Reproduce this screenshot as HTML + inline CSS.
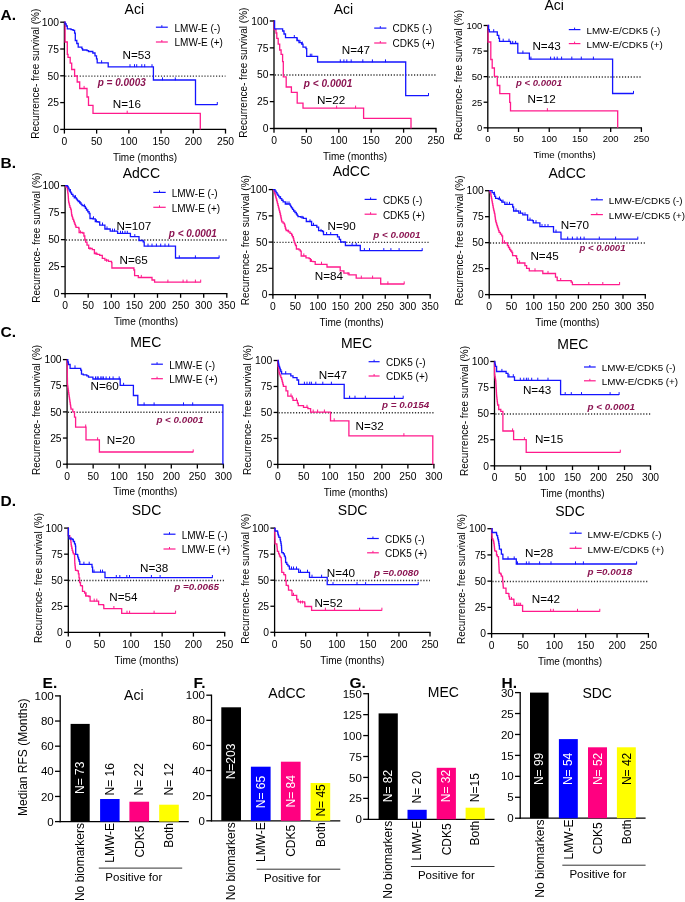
<!DOCTYPE html>
<html><head><meta charset="utf-8"><style>
html,body{margin:0;padding:0;background:#fff;}
svg{display:block;will-change:transform;}
text{font-family:"Liberation Sans", sans-serif;}
</style></head><body>
<svg width="685" height="902" viewBox="0 0 685 902" font-family='"Liberation Sans", sans-serif'>
<rect width="685" height="902" fill="#fff"/>
<line x1="64.40" y1="21.60" x2="64.40" y2="130.00" stroke="#000" stroke-width="1.3"/>
<line x1="63.80" y1="129.40" x2="226.10" y2="129.40" stroke="#000" stroke-width="1.3"/>
<line x1="60.20" y1="129.40" x2="64.40" y2="129.40" stroke="#000" stroke-width="1.3"/>
<text x="58.90" y="133.10" font-size="10.3" text-anchor="end">0</text>
<line x1="60.20" y1="102.60" x2="64.40" y2="102.60" stroke="#000" stroke-width="1.3"/>
<text x="58.90" y="106.30" font-size="10.3" text-anchor="end">25</text>
<line x1="60.20" y1="75.80" x2="64.40" y2="75.80" stroke="#000" stroke-width="1.3"/>
<text x="58.90" y="79.50" font-size="10.3" text-anchor="end">50</text>
<line x1="60.20" y1="49.00" x2="64.40" y2="49.00" stroke="#000" stroke-width="1.3"/>
<text x="58.90" y="52.70" font-size="10.3" text-anchor="end">75</text>
<line x1="60.20" y1="22.20" x2="64.40" y2="22.20" stroke="#000" stroke-width="1.3"/>
<text x="58.90" y="25.90" font-size="10.3" text-anchor="end">100</text>
<line x1="64.40" y1="129.40" x2="64.40" y2="133.60" stroke="#000" stroke-width="1.3"/>
<text x="64.40" y="145.00" font-size="10.3" text-anchor="middle">0</text>
<line x1="96.62" y1="129.40" x2="96.62" y2="133.60" stroke="#000" stroke-width="1.3"/>
<text x="96.62" y="145.00" font-size="10.3" text-anchor="middle">50</text>
<line x1="128.84" y1="129.40" x2="128.84" y2="133.60" stroke="#000" stroke-width="1.3"/>
<text x="128.84" y="145.00" font-size="10.3" text-anchor="middle">100</text>
<line x1="161.06" y1="129.40" x2="161.06" y2="133.60" stroke="#000" stroke-width="1.3"/>
<text x="161.06" y="145.00" font-size="10.3" text-anchor="middle">150</text>
<line x1="193.28" y1="129.40" x2="193.28" y2="133.60" stroke="#000" stroke-width="1.3"/>
<text x="193.28" y="145.00" font-size="10.3" text-anchor="middle">200</text>
<line x1="225.50" y1="129.40" x2="225.50" y2="133.60" stroke="#000" stroke-width="1.3"/>
<text x="225.50" y="145.00" font-size="10.3" text-anchor="middle">250</text>
<line x1="65.20" y1="76.10" x2="225.50" y2="76.10" stroke="#333" stroke-width="1.4" stroke-dasharray="1.2 1.7"/>
<text x="38.70" y="73.70" font-size="10" text-anchor="middle" transform="rotate(-90 38.7 73.7)">Recurrence- free survival (%)</text>
<text x="144.95" y="160.70" font-size="10" text-anchor="middle">Time (months)</text>
<text x="134.30" y="14.00" font-size="14" text-anchor="middle">Aci</text>
<line x1="155.90" y1="27.20" x2="167.80" y2="27.20" stroke="#1414ff" stroke-width="1.2"/>
<line x1="161.85" y1="27.20" x2="161.85" y2="25.20" stroke="#1414ff" stroke-width="1.0"/>
<text x="174.50" y="31.50" font-size="10">LMW-E (-)</text>
<line x1="155.90" y1="42.00" x2="167.80" y2="42.00" stroke="#ff1a8c" stroke-width="1.2"/>
<line x1="161.85" y1="42.00" x2="161.85" y2="40.00" stroke="#ff1a8c" stroke-width="1.0"/>
<text x="174.50" y="46.30" font-size="10">LMW-E (+)</text>
<text x="122.60" y="59.20" font-size="11.7">N=53</text>
<text x="112.80" y="107.80" font-size="11.7">N=16</text>
<text x="97.70" y="86.30" font-size="10" font-weight="bold" font-style="italic" fill="#8b1552">p = 0.0003</text>
<path d="M64.40 22.20H65.10V42.00H67.30V54.40H68.00V57.30H70.20V63.20H71.70V69.50H74.60V76.00H77.20V82.00H79.70V88.50H87.00V97.00H88.50V105.30H93.00V113.30H200.30V129.40" fill="none" stroke="#ff1a8c" stroke-width="1.3" stroke-linejoin="miter"/>
<line x1="84.10" y1="88.80" x2="84.10" y2="85.90" stroke="#ff1a8c" stroke-width="1.0"/>
<line x1="127.20" y1="113.60" x2="127.20" y2="110.70" stroke="#ff1a8c" stroke-width="1.0"/>
<path d="M64.40 22.20H65.10V24.00H66.20V26.00H67.30V28.90H71.00V29.60H73.10V30.30H74.60V33.20H75.30V40.50H76.80V43.50H78.20V47.10H81.90V48.60H82.60V50.00H87.00V50.60H88.50V51.50H92.80V53.00H95.00V55.90H96.50V58.80H97.20V62.90H108.20V66.80H153.40V80.00H195.50V104.60H217.30V104.60" fill="none" stroke="#1414ff" stroke-width="1.3" stroke-linejoin="miter"/>
<line x1="101.60" y1="63.20" x2="101.60" y2="60.30" stroke="#1414ff" stroke-width="1.0"/>
<line x1="130.00" y1="67.10" x2="130.00" y2="64.20" stroke="#1414ff" stroke-width="1.0"/>
<line x1="134.50" y1="67.10" x2="134.50" y2="64.20" stroke="#1414ff" stroke-width="1.0"/>
<line x1="136.70" y1="67.10" x2="136.70" y2="64.20" stroke="#1414ff" stroke-width="1.0"/>
<line x1="141.80" y1="67.10" x2="141.80" y2="64.20" stroke="#1414ff" stroke-width="1.0"/>
<line x1="144.70" y1="67.10" x2="144.70" y2="64.20" stroke="#1414ff" stroke-width="1.0"/>
<line x1="152.00" y1="67.10" x2="152.00" y2="64.20" stroke="#1414ff" stroke-width="1.0"/>
<line x1="162.50" y1="80.30" x2="162.50" y2="77.40" stroke="#1414ff" stroke-width="1.0"/>
<line x1="175.30" y1="80.30" x2="175.30" y2="77.40" stroke="#1414ff" stroke-width="1.0"/>
<line x1="217.30" y1="104.90" x2="217.30" y2="102.00" stroke="#1414ff" stroke-width="1.0"/>
<line x1="274.00" y1="20.40" x2="274.00" y2="129.10" stroke="#000" stroke-width="1.3"/>
<line x1="273.40" y1="128.50" x2="436.60" y2="128.50" stroke="#000" stroke-width="1.3"/>
<line x1="269.80" y1="128.50" x2="274.00" y2="128.50" stroke="#000" stroke-width="1.3"/>
<text x="268.50" y="132.20" font-size="10.3" text-anchor="end">0</text>
<line x1="269.80" y1="101.62" x2="274.00" y2="101.62" stroke="#000" stroke-width="1.3"/>
<text x="268.50" y="105.33" font-size="10.3" text-anchor="end">25</text>
<line x1="269.80" y1="74.75" x2="274.00" y2="74.75" stroke="#000" stroke-width="1.3"/>
<text x="268.50" y="78.45" font-size="10.3" text-anchor="end">50</text>
<line x1="269.80" y1="47.88" x2="274.00" y2="47.88" stroke="#000" stroke-width="1.3"/>
<text x="268.50" y="51.58" font-size="10.3" text-anchor="end">75</text>
<line x1="269.80" y1="21.00" x2="274.00" y2="21.00" stroke="#000" stroke-width="1.3"/>
<text x="268.50" y="24.70" font-size="10.3" text-anchor="end">100</text>
<line x1="274.00" y1="128.50" x2="274.00" y2="132.70" stroke="#000" stroke-width="1.3"/>
<text x="274.00" y="144.10" font-size="10.3" text-anchor="middle">0</text>
<line x1="306.40" y1="128.50" x2="306.40" y2="132.70" stroke="#000" stroke-width="1.3"/>
<text x="306.40" y="144.10" font-size="10.3" text-anchor="middle">50</text>
<line x1="338.80" y1="128.50" x2="338.80" y2="132.70" stroke="#000" stroke-width="1.3"/>
<text x="338.80" y="144.10" font-size="10.3" text-anchor="middle">100</text>
<line x1="371.20" y1="128.50" x2="371.20" y2="132.70" stroke="#000" stroke-width="1.3"/>
<text x="371.20" y="144.10" font-size="10.3" text-anchor="middle">150</text>
<line x1="403.60" y1="128.50" x2="403.60" y2="132.70" stroke="#000" stroke-width="1.3"/>
<text x="403.60" y="144.10" font-size="10.3" text-anchor="middle">200</text>
<line x1="436.00" y1="128.50" x2="436.00" y2="132.70" stroke="#000" stroke-width="1.3"/>
<text x="436.00" y="144.10" font-size="10.3" text-anchor="middle">250</text>
<line x1="274.80" y1="75.05" x2="436.00" y2="75.05" stroke="#333" stroke-width="1.4" stroke-dasharray="1.2 1.7"/>
<text x="246.80" y="72.65" font-size="10" text-anchor="middle" transform="rotate(-90 246.8 72.65)">Recurrence- free survival (%)</text>
<text x="355.00" y="160.40" font-size="10" text-anchor="middle">Time (months)</text>
<text x="343.50" y="14.00" font-size="14" text-anchor="middle">Aci</text>
<line x1="374.20" y1="28.10" x2="386.40" y2="28.10" stroke="#1414ff" stroke-width="1.2"/>
<line x1="380.30" y1="28.10" x2="380.30" y2="26.10" stroke="#1414ff" stroke-width="1.0"/>
<text x="392.60" y="32.40" font-size="10">CDK5 (-)</text>
<line x1="374.20" y1="43.00" x2="386.40" y2="43.00" stroke="#ff1a8c" stroke-width="1.2"/>
<line x1="380.30" y1="43.00" x2="380.30" y2="41.00" stroke="#ff1a8c" stroke-width="1.0"/>
<text x="392.60" y="47.30" font-size="10">CDK5 (+)</text>
<text x="341.80" y="53.50" font-size="11.7">N=47</text>
<text x="316.90" y="104.10" font-size="11.7">N=22</text>
<text x="303.80" y="87.00" font-size="10.1" font-weight="bold" font-style="italic" fill="#8b1552">p &lt; 0.0001</text>
<path d="M274.00 21.00H274.20V29.60H276.00V33.00H276.80V38.40H278.20V44.20H279.70V50.00H281.10V54.40H282.60V61.70H283.30V76.80H286.20V87.00H291.40V92.40H297.20V103.10H303.00V108.20H363.60V118.40H411.00V128.50" fill="none" stroke="#ff1a8c" stroke-width="1.3" stroke-linejoin="miter"/>
<line x1="336.60" y1="108.50" x2="336.60" y2="105.60" stroke="#ff1a8c" stroke-width="1.0"/>
<line x1="355.60" y1="108.50" x2="355.60" y2="105.60" stroke="#ff1a8c" stroke-width="1.0"/>
<path d="M274.00 21.00H274.60V28.90H282.60V31.00H284.00V34.00H285.50V37.60H297.00V40.50H299.00V42.70H301.60V44.20H303.00V47.10H306.00V48.60H306.70V56.30H317.60V62.00H405.70V95.60H428.50V95.60" fill="none" stroke="#1414ff" stroke-width="1.3" stroke-linejoin="miter"/>
<line x1="294.30" y1="37.90" x2="294.30" y2="35.00" stroke="#1414ff" stroke-width="1.0"/>
<line x1="297.20" y1="40.80" x2="297.20" y2="37.90" stroke="#1414ff" stroke-width="1.0"/>
<line x1="300.00" y1="43.00" x2="300.00" y2="40.10" stroke="#1414ff" stroke-width="1.0"/>
<line x1="302.30" y1="44.50" x2="302.30" y2="41.60" stroke="#1414ff" stroke-width="1.0"/>
<line x1="310.30" y1="56.60" x2="310.30" y2="53.70" stroke="#1414ff" stroke-width="1.0"/>
<line x1="311.80" y1="56.60" x2="311.80" y2="53.70" stroke="#1414ff" stroke-width="1.0"/>
<line x1="340.30" y1="62.30" x2="340.30" y2="59.40" stroke="#1414ff" stroke-width="1.0"/>
<line x1="343.90" y1="62.30" x2="343.90" y2="59.40" stroke="#1414ff" stroke-width="1.0"/>
<line x1="346.80" y1="62.30" x2="346.80" y2="59.40" stroke="#1414ff" stroke-width="1.0"/>
<line x1="351.20" y1="62.30" x2="351.20" y2="59.40" stroke="#1414ff" stroke-width="1.0"/>
<line x1="362.80" y1="62.30" x2="362.80" y2="59.40" stroke="#1414ff" stroke-width="1.0"/>
<line x1="372.40" y1="62.30" x2="372.40" y2="59.40" stroke="#1414ff" stroke-width="1.0"/>
<line x1="385.50" y1="62.30" x2="385.50" y2="59.40" stroke="#1414ff" stroke-width="1.0"/>
<line x1="428.50" y1="95.90" x2="428.50" y2="93.00" stroke="#1414ff" stroke-width="1.0"/>
<line x1="487.80" y1="24.90" x2="487.80" y2="128.40" stroke="#000" stroke-width="1.3"/>
<line x1="487.20" y1="127.80" x2="642.00" y2="127.80" stroke="#000" stroke-width="1.3"/>
<line x1="483.60" y1="127.80" x2="487.80" y2="127.80" stroke="#000" stroke-width="1.3"/>
<text x="482.30" y="131.21" font-size="9.5" text-anchor="end">0</text>
<line x1="483.60" y1="102.22" x2="487.80" y2="102.22" stroke="#000" stroke-width="1.3"/>
<text x="482.30" y="105.64" font-size="9.5" text-anchor="end">25</text>
<line x1="483.60" y1="76.65" x2="487.80" y2="76.65" stroke="#000" stroke-width="1.3"/>
<text x="482.30" y="80.06" font-size="9.5" text-anchor="end">50</text>
<line x1="483.60" y1="51.08" x2="487.80" y2="51.08" stroke="#000" stroke-width="1.3"/>
<text x="482.30" y="54.49" font-size="9.5" text-anchor="end">75</text>
<line x1="483.60" y1="25.50" x2="487.80" y2="25.50" stroke="#000" stroke-width="1.3"/>
<text x="482.30" y="28.91" font-size="9.5" text-anchor="end">100</text>
<line x1="487.80" y1="127.80" x2="487.80" y2="132.00" stroke="#000" stroke-width="1.3"/>
<text x="487.80" y="142.40" font-size="9.5" text-anchor="middle">0</text>
<line x1="518.52" y1="127.80" x2="518.52" y2="132.00" stroke="#000" stroke-width="1.3"/>
<text x="518.52" y="142.40" font-size="9.5" text-anchor="middle">50</text>
<line x1="549.24" y1="127.80" x2="549.24" y2="132.00" stroke="#000" stroke-width="1.3"/>
<text x="549.24" y="142.40" font-size="9.5" text-anchor="middle">100</text>
<line x1="579.96" y1="127.80" x2="579.96" y2="132.00" stroke="#000" stroke-width="1.3"/>
<text x="579.96" y="142.40" font-size="9.5" text-anchor="middle">150</text>
<line x1="610.68" y1="127.80" x2="610.68" y2="132.00" stroke="#000" stroke-width="1.3"/>
<text x="610.68" y="142.40" font-size="9.5" text-anchor="middle">200</text>
<line x1="641.40" y1="127.80" x2="641.40" y2="132.00" stroke="#000" stroke-width="1.3"/>
<text x="641.40" y="142.40" font-size="9.5" text-anchor="middle">250</text>
<line x1="488.60" y1="76.95" x2="641.40" y2="76.95" stroke="#333" stroke-width="1.4" stroke-dasharray="1.2 1.7"/>
<text x="462.10" y="74.90" font-size="10" text-anchor="middle" transform="rotate(-90 462.1 74.9)">Recurrence- free survival (%)</text>
<text x="564.60" y="157.50" font-size="9.7" text-anchor="middle">Time (months)</text>
<text x="554.20" y="10.00" font-size="14" text-anchor="middle">Aci</text>
<line x1="568.80" y1="29.60" x2="580.40" y2="29.60" stroke="#1414ff" stroke-width="1.2"/>
<line x1="574.60" y1="29.60" x2="574.60" y2="27.60" stroke="#1414ff" stroke-width="1.0"/>
<text x="586.50" y="33.90" font-size="9.8">LMW-E/CDK5 (-)</text>
<line x1="568.80" y1="43.60" x2="580.40" y2="43.60" stroke="#ff1a8c" stroke-width="1.2"/>
<line x1="574.60" y1="43.60" x2="574.60" y2="41.60" stroke="#ff1a8c" stroke-width="1.0"/>
<text x="586.50" y="47.90" font-size="9.8">LMW-E/CDK5 (+)</text>
<text x="532.40" y="50.10" font-size="11.7">N=43</text>
<text x="527.50" y="103.10" font-size="11.7">N=12</text>
<text x="515.90" y="85.80" font-size="9.6" font-weight="bold" font-style="italic" fill="#8b1552">p &lt; 0.0001</text>
<path d="M487.80 25.50H488.10V42.00H490.80V59.50H492.20V68.00H494.40V76.40H497.30V85.50H499.80V93.60H509.70V102.30H510.50V110.80H617.70V127.80" fill="none" stroke="#ff1a8c" stroke-width="1.3" stroke-linejoin="miter"/>
<line x1="547.40" y1="111.10" x2="547.40" y2="108.20" stroke="#ff1a8c" stroke-width="1.0"/>
<path d="M487.80 25.50H488.60V29.60H489.30V31.80H497.30V35.40H498.80V38.40H499.50V41.30H510.50V43.50H517.80V53.20H529.40V59.20H612.60V93.50H633.50V93.50" fill="none" stroke="#1414ff" stroke-width="1.3" stroke-linejoin="miter"/>
<line x1="493.70" y1="32.10" x2="493.70" y2="29.20" stroke="#1414ff" stroke-width="1.0"/>
<line x1="503.20" y1="41.60" x2="503.20" y2="38.70" stroke="#1414ff" stroke-width="1.0"/>
<line x1="509.00" y1="41.60" x2="509.00" y2="38.70" stroke="#1414ff" stroke-width="1.0"/>
<line x1="512.70" y1="43.80" x2="512.70" y2="40.90" stroke="#1414ff" stroke-width="1.0"/>
<line x1="515.60" y1="43.80" x2="515.60" y2="40.90" stroke="#1414ff" stroke-width="1.0"/>
<line x1="522.90" y1="53.50" x2="522.90" y2="50.60" stroke="#1414ff" stroke-width="1.0"/>
<line x1="530.90" y1="59.50" x2="530.90" y2="56.60" stroke="#1414ff" stroke-width="1.0"/>
<line x1="550.60" y1="59.50" x2="550.60" y2="56.60" stroke="#1414ff" stroke-width="1.0"/>
<line x1="554.30" y1="59.50" x2="554.30" y2="56.60" stroke="#1414ff" stroke-width="1.0"/>
<line x1="557.20" y1="59.50" x2="557.20" y2="56.60" stroke="#1414ff" stroke-width="1.0"/>
<line x1="561.60" y1="59.50" x2="561.60" y2="56.60" stroke="#1414ff" stroke-width="1.0"/>
<line x1="571.80" y1="59.50" x2="571.80" y2="56.60" stroke="#1414ff" stroke-width="1.0"/>
<line x1="581.30" y1="59.50" x2="581.30" y2="56.60" stroke="#1414ff" stroke-width="1.0"/>
<line x1="593.40" y1="59.50" x2="593.40" y2="56.60" stroke="#1414ff" stroke-width="1.0"/>
<line x1="633.50" y1="93.80" x2="633.50" y2="90.90" stroke="#1414ff" stroke-width="1.0"/>
<line x1="65.10" y1="185.10" x2="65.10" y2="294.20" stroke="#000" stroke-width="1.3"/>
<line x1="64.50" y1="293.60" x2="227.40" y2="293.60" stroke="#000" stroke-width="1.3"/>
<line x1="60.90" y1="293.60" x2="65.10" y2="293.60" stroke="#000" stroke-width="1.3"/>
<text x="59.60" y="297.30" font-size="10.3" text-anchor="end">0</text>
<line x1="60.90" y1="266.62" x2="65.10" y2="266.62" stroke="#000" stroke-width="1.3"/>
<text x="59.60" y="270.32" font-size="10.3" text-anchor="end">25</text>
<line x1="60.90" y1="239.65" x2="65.10" y2="239.65" stroke="#000" stroke-width="1.3"/>
<text x="59.60" y="243.35" font-size="10.3" text-anchor="end">50</text>
<line x1="60.90" y1="212.68" x2="65.10" y2="212.68" stroke="#000" stroke-width="1.3"/>
<text x="59.60" y="216.38" font-size="10.3" text-anchor="end">75</text>
<line x1="60.90" y1="185.70" x2="65.10" y2="185.70" stroke="#000" stroke-width="1.3"/>
<text x="59.60" y="189.40" font-size="10.3" text-anchor="end">100</text>
<line x1="65.10" y1="293.60" x2="65.10" y2="297.80" stroke="#000" stroke-width="1.3"/>
<text x="65.10" y="309.20" font-size="10.3" text-anchor="middle">0</text>
<line x1="88.20" y1="293.60" x2="88.20" y2="297.80" stroke="#000" stroke-width="1.3"/>
<text x="88.20" y="309.20" font-size="10.3" text-anchor="middle">50</text>
<line x1="111.30" y1="293.60" x2="111.30" y2="297.80" stroke="#000" stroke-width="1.3"/>
<text x="111.30" y="309.20" font-size="10.3" text-anchor="middle">100</text>
<line x1="134.40" y1="293.60" x2="134.40" y2="297.80" stroke="#000" stroke-width="1.3"/>
<text x="134.40" y="309.20" font-size="10.3" text-anchor="middle">150</text>
<line x1="157.50" y1="293.60" x2="157.50" y2="297.80" stroke="#000" stroke-width="1.3"/>
<text x="157.50" y="309.20" font-size="10.3" text-anchor="middle">200</text>
<line x1="180.60" y1="293.60" x2="180.60" y2="297.80" stroke="#000" stroke-width="1.3"/>
<text x="180.60" y="309.20" font-size="10.3" text-anchor="middle">250</text>
<line x1="203.70" y1="293.60" x2="203.70" y2="297.80" stroke="#000" stroke-width="1.3"/>
<text x="203.70" y="309.20" font-size="10.3" text-anchor="middle">300</text>
<line x1="226.80" y1="293.60" x2="226.80" y2="297.80" stroke="#000" stroke-width="1.3"/>
<text x="226.80" y="309.20" font-size="10.3" text-anchor="middle">350</text>
<line x1="65.90" y1="239.95" x2="226.80" y2="239.95" stroke="#333" stroke-width="1.4" stroke-dasharray="1.2 1.7"/>
<text x="39.70" y="237.65" font-size="10" text-anchor="middle" transform="rotate(-90 39.7 237.65)">Recurrence- free survival (%)</text>
<text x="145.95" y="324.90" font-size="10" text-anchor="middle">Time (months)</text>
<text x="141.40" y="178.40" font-size="14" text-anchor="middle">AdCC</text>
<line x1="153.30" y1="192.40" x2="165.70" y2="192.40" stroke="#1414ff" stroke-width="1.2"/>
<line x1="159.50" y1="192.40" x2="159.50" y2="190.40" stroke="#1414ff" stroke-width="1.0"/>
<text x="171.70" y="196.70" font-size="10">LMW-E (-)</text>
<line x1="153.30" y1="207.30" x2="165.70" y2="207.30" stroke="#ff1a8c" stroke-width="1.2"/>
<line x1="159.50" y1="207.30" x2="159.50" y2="205.30" stroke="#ff1a8c" stroke-width="1.0"/>
<text x="171.70" y="211.60" font-size="10">LMW-E (+)</text>
<text x="116.60" y="229.60" font-size="11.7">N=107</text>
<text x="119.60" y="264.00" font-size="11.7">N=65</text>
<text x="168.80" y="236.70" font-size="10" font-weight="bold" font-style="italic" fill="#8b1552">p &lt; 0.0001</text>
<path d="M65.10 185.70H65.90V187.00H67.30V189.00H67.50V190.53H67.70V192.05H67.90V193.57H68.10V195.10H68.22V196.85H68.35V198.60H68.47V200.35H68.60V202.10H69.03V203.87H69.47V205.63H69.90V207.40H70.55V209.15H71.20V210.90H71.40V212.95H71.60V215.00H72.03V216.47H72.47V217.93H72.90V219.40H73.60V221.15H74.30V222.90H74.87V224.37H75.43V225.83H76.00V227.30H78.60V228.10H79.10V232.50H82.60V233.00H83.90V236.00H84.80V239.50H85.60V242.10H87.00V245.20H88.70V248.30H92.20V249.60H94.40V253.50H97.00V254.40H99.70V255.30H102.30V258.30H104.90V260.10H108.40V261.40H111.50V262.70H111.90V268.00H133.90V270.00H134.60V275.60H138.30V277.50H152.00V280.00H154.60V282.20H200.70V282.20" fill="none" stroke="#ff1a8c" stroke-width="1.3" stroke-linejoin="miter"/>
<line x1="80.50" y1="233.30" x2="80.50" y2="230.40" stroke="#ff1a8c" stroke-width="1.0"/>
<line x1="90.00" y1="249.90" x2="90.00" y2="247.00" stroke="#ff1a8c" stroke-width="1.0"/>
<line x1="96.00" y1="254.70" x2="96.00" y2="251.80" stroke="#ff1a8c" stroke-width="1.0"/>
<line x1="106.50" y1="261.70" x2="106.50" y2="258.80" stroke="#ff1a8c" stroke-width="1.0"/>
<line x1="141.30" y1="277.80" x2="141.30" y2="274.90" stroke="#ff1a8c" stroke-width="1.0"/>
<line x1="167.90" y1="282.50" x2="167.90" y2="279.60" stroke="#ff1a8c" stroke-width="1.0"/>
<line x1="183.10" y1="282.50" x2="183.10" y2="279.60" stroke="#ff1a8c" stroke-width="1.0"/>
<line x1="186.90" y1="282.50" x2="186.90" y2="279.60" stroke="#ff1a8c" stroke-width="1.0"/>
<line x1="195.40" y1="282.50" x2="195.40" y2="279.60" stroke="#ff1a8c" stroke-width="1.0"/>
<line x1="200.70" y1="282.50" x2="200.70" y2="279.60" stroke="#ff1a8c" stroke-width="1.0"/>
<path d="M65.10 185.70H65.90V185.70H67.30V186.40H68.15V188.15H69.00V189.90H69.90V191.60H70.75V192.95H71.60V194.30H72.95V196.05H74.30V197.80H76.40V199.10H77.30V200.40H78.20V201.70H80.00V203.00H81.05V204.30H82.10V205.60H84.30V206.50H85.40V208.25H86.50V210.00H87.80V211.75H89.10V213.50H90.00V218.50H92.60V218.90H95.30V221.60H97.90V222.00H99.70V225.10H104.90V229.00H110.20V231.20H117.60V233.40H130.40V236.70H139.00V240.50H143.20V241.80H144.20V246.20H175.50V258.00H219.10V258.00" fill="none" stroke="#1414ff" stroke-width="1.3" stroke-linejoin="miter"/>
<line x1="70.50" y1="191.90" x2="70.50" y2="189.00" stroke="#1414ff" stroke-width="1.0"/>
<line x1="75.50" y1="198.10" x2="75.50" y2="195.20" stroke="#1414ff" stroke-width="1.0"/>
<line x1="79.50" y1="203.30" x2="79.50" y2="200.40" stroke="#1414ff" stroke-width="1.0"/>
<line x1="84.30" y1="206.80" x2="84.30" y2="203.90" stroke="#1414ff" stroke-width="1.0"/>
<line x1="93.50" y1="219.20" x2="93.50" y2="216.30" stroke="#1414ff" stroke-width="1.0"/>
<line x1="96.50" y1="222.30" x2="96.50" y2="219.40" stroke="#1414ff" stroke-width="1.0"/>
<line x1="102.50" y1="225.40" x2="102.50" y2="222.50" stroke="#1414ff" stroke-width="1.0"/>
<line x1="107.00" y1="229.30" x2="107.00" y2="226.40" stroke="#1414ff" stroke-width="1.0"/>
<line x1="112.50" y1="231.50" x2="112.50" y2="228.60" stroke="#1414ff" stroke-width="1.0"/>
<line x1="114.50" y1="231.50" x2="114.50" y2="228.60" stroke="#1414ff" stroke-width="1.0"/>
<line x1="120.50" y1="233.70" x2="120.50" y2="230.80" stroke="#1414ff" stroke-width="1.0"/>
<line x1="122.50" y1="233.70" x2="122.50" y2="230.80" stroke="#1414ff" stroke-width="1.0"/>
<line x1="125.00" y1="233.70" x2="125.00" y2="230.80" stroke="#1414ff" stroke-width="1.0"/>
<line x1="127.30" y1="233.70" x2="127.30" y2="230.80" stroke="#1414ff" stroke-width="1.0"/>
<line x1="134.80" y1="237.00" x2="134.80" y2="234.10" stroke="#1414ff" stroke-width="1.0"/>
<line x1="148.00" y1="246.50" x2="148.00" y2="243.60" stroke="#1414ff" stroke-width="1.0"/>
<line x1="152.00" y1="246.50" x2="152.00" y2="243.60" stroke="#1414ff" stroke-width="1.0"/>
<line x1="156.40" y1="246.50" x2="156.40" y2="243.60" stroke="#1414ff" stroke-width="1.0"/>
<line x1="160.70" y1="246.50" x2="160.70" y2="243.60" stroke="#1414ff" stroke-width="1.0"/>
<line x1="165.00" y1="246.50" x2="165.00" y2="243.60" stroke="#1414ff" stroke-width="1.0"/>
<line x1="168.70" y1="246.50" x2="168.70" y2="243.60" stroke="#1414ff" stroke-width="1.0"/>
<line x1="179.30" y1="258.30" x2="179.30" y2="255.40" stroke="#1414ff" stroke-width="1.0"/>
<line x1="195.40" y1="258.30" x2="195.40" y2="255.40" stroke="#1414ff" stroke-width="1.0"/>
<line x1="219.10" y1="258.30" x2="219.10" y2="255.40" stroke="#1414ff" stroke-width="1.0"/>
<line x1="272.90" y1="189.00" x2="272.90" y2="295.20" stroke="#000" stroke-width="1.3"/>
<line x1="272.30" y1="294.60" x2="430.80" y2="294.60" stroke="#000" stroke-width="1.3"/>
<line x1="268.70" y1="294.60" x2="272.90" y2="294.60" stroke="#000" stroke-width="1.3"/>
<text x="267.40" y="298.30" font-size="10.3" text-anchor="end">0</text>
<line x1="268.70" y1="268.35" x2="272.90" y2="268.35" stroke="#000" stroke-width="1.3"/>
<text x="267.40" y="272.05" font-size="10.3" text-anchor="end">25</text>
<line x1="268.70" y1="242.10" x2="272.90" y2="242.10" stroke="#000" stroke-width="1.3"/>
<text x="267.40" y="245.80" font-size="10.3" text-anchor="end">50</text>
<line x1="268.70" y1="215.85" x2="272.90" y2="215.85" stroke="#000" stroke-width="1.3"/>
<text x="267.40" y="219.55" font-size="10.3" text-anchor="end">75</text>
<line x1="268.70" y1="189.60" x2="272.90" y2="189.60" stroke="#000" stroke-width="1.3"/>
<text x="267.40" y="193.30" font-size="10.3" text-anchor="end">100</text>
<line x1="272.90" y1="294.60" x2="272.90" y2="298.80" stroke="#000" stroke-width="1.3"/>
<text x="272.90" y="310.20" font-size="10.3" text-anchor="middle">0</text>
<line x1="295.37" y1="294.60" x2="295.37" y2="298.80" stroke="#000" stroke-width="1.3"/>
<text x="295.37" y="310.20" font-size="10.3" text-anchor="middle">50</text>
<line x1="317.84" y1="294.60" x2="317.84" y2="298.80" stroke="#000" stroke-width="1.3"/>
<text x="317.84" y="310.20" font-size="10.3" text-anchor="middle">100</text>
<line x1="340.31" y1="294.60" x2="340.31" y2="298.80" stroke="#000" stroke-width="1.3"/>
<text x="340.31" y="310.20" font-size="10.3" text-anchor="middle">150</text>
<line x1="362.79" y1="294.60" x2="362.79" y2="298.80" stroke="#000" stroke-width="1.3"/>
<text x="362.79" y="310.20" font-size="10.3" text-anchor="middle">200</text>
<line x1="385.26" y1="294.60" x2="385.26" y2="298.80" stroke="#000" stroke-width="1.3"/>
<text x="385.26" y="310.20" font-size="10.3" text-anchor="middle">250</text>
<line x1="407.73" y1="294.60" x2="407.73" y2="298.80" stroke="#000" stroke-width="1.3"/>
<text x="407.73" y="310.20" font-size="10.3" text-anchor="middle">300</text>
<line x1="430.20" y1="294.60" x2="430.20" y2="298.80" stroke="#000" stroke-width="1.3"/>
<text x="430.20" y="310.20" font-size="10.3" text-anchor="middle">350</text>
<line x1="273.70" y1="242.40" x2="430.20" y2="242.40" stroke="#333" stroke-width="1.4" stroke-dasharray="1.2 1.7"/>
<text x="248.70" y="240.10" font-size="10" text-anchor="middle" transform="rotate(-90 248.7 240.10000000000002)">Recurrence- free survival (%)</text>
<text x="351.55" y="325.90" font-size="10" text-anchor="middle">Time (months)</text>
<text x="351.40" y="176.30" font-size="14" text-anchor="middle">AdCC</text>
<line x1="364.60" y1="199.40" x2="376.60" y2="199.40" stroke="#1414ff" stroke-width="1.2"/>
<line x1="370.60" y1="199.40" x2="370.60" y2="197.40" stroke="#1414ff" stroke-width="1.0"/>
<text x="382.90" y="203.70" font-size="10">CDK5 (-)</text>
<line x1="364.60" y1="214.20" x2="376.60" y2="214.20" stroke="#ff1a8c" stroke-width="1.2"/>
<line x1="370.60" y1="214.20" x2="370.60" y2="212.20" stroke="#ff1a8c" stroke-width="1.0"/>
<text x="382.90" y="218.50" font-size="10">CDK5 (+)</text>
<text x="327.60" y="229.80" font-size="11.7">N=90</text>
<text x="314.70" y="279.90" font-size="11.7">N=84</text>
<text x="373.20" y="238.40" font-size="9.85" font-weight="bold" font-style="italic" fill="#8b1552">p &lt; 0.0001</text>
<path d="M272.90 189.60H273.50V190.40H274.10V192.13H274.70V193.87H275.30V195.60H275.73V197.15H276.15V198.70H276.57V200.25H277.00V201.80H277.45V203.55H277.90V205.30H278.35V207.05H278.80V208.80H279.23V210.53H279.67V212.27H280.10V214.00H280.50V215.75H280.90V217.50H281.20V218.97H281.50V220.43H281.80V221.90H283.10V223.20H284.40V224.50H284.85V226.25H285.30V228.00H285.75V229.35H286.20V230.70H288.50V231.90H290.05V233.45H291.60V235.00H292.45V236.75H293.30V238.50H293.75V240.45H294.20V242.40H294.85V243.95H295.50V245.50H296.40V249.00H299.00V249.90H300.30V251.20H301.20V256.00H306.00V257.80H309.10V258.60H310.40V261.30H313.00V261.70H315.20V264.30H326.20V264.30H327.00V267.00H338.90V267.00H340.20V270.90H343.90V273.10H349.00V274.80H356.20V278.20H380.70V284.00H404.20V284.00" fill="none" stroke="#ff1a8c" stroke-width="1.3" stroke-linejoin="miter"/>
<line x1="288.00" y1="232.20" x2="288.00" y2="229.30" stroke="#ff1a8c" stroke-width="1.0"/>
<line x1="303.80" y1="256.30" x2="303.80" y2="253.40" stroke="#ff1a8c" stroke-width="1.0"/>
<line x1="311.50" y1="262.00" x2="311.50" y2="259.10" stroke="#ff1a8c" stroke-width="1.0"/>
<line x1="321.50" y1="264.60" x2="321.50" y2="261.70" stroke="#ff1a8c" stroke-width="1.0"/>
<line x1="348.00" y1="275.10" x2="348.00" y2="272.20" stroke="#ff1a8c" stroke-width="1.0"/>
<line x1="361.30" y1="278.50" x2="361.30" y2="275.60" stroke="#ff1a8c" stroke-width="1.0"/>
<line x1="372.60" y1="278.50" x2="372.60" y2="275.60" stroke="#ff1a8c" stroke-width="1.0"/>
<line x1="387.90" y1="284.30" x2="387.90" y2="281.40" stroke="#ff1a8c" stroke-width="1.0"/>
<line x1="404.20" y1="284.30" x2="404.20" y2="281.40" stroke="#ff1a8c" stroke-width="1.0"/>
<path d="M272.90 189.60H273.90V189.60H275.00V191.10H276.10V192.60H277.00V194.03H277.90V195.47H278.80V196.90H280.50V198.70H281.80V200.25H283.10V201.80H285.30V204.00H288.00V204.00H290.10V205.30H290.80V206.60H291.50V207.90H292.55V209.45H293.60V211.00H294.95V212.50H296.30V214.00H297.15V215.30H298.00V216.60H300.60V217.10H303.30V218.40H306.30V221.50H311.60V225.40H314.70V225.40H316.80V227.20H318.60V230.70H322.50V231.50H323.50V234.60H337.50V236.80H339.30V239.40H340.60V242.00H345.40V245.50H360.30V250.70H422.20V250.70" fill="none" stroke="#1414ff" stroke-width="1.3" stroke-linejoin="miter"/>
<line x1="280.00" y1="199.00" x2="280.00" y2="196.10" stroke="#1414ff" stroke-width="1.0"/>
<line x1="287.00" y1="204.30" x2="287.00" y2="201.40" stroke="#1414ff" stroke-width="1.0"/>
<line x1="289.00" y1="204.30" x2="289.00" y2="201.40" stroke="#1414ff" stroke-width="1.0"/>
<line x1="302.00" y1="218.70" x2="302.00" y2="215.80" stroke="#1414ff" stroke-width="1.0"/>
<line x1="310.00" y1="222.20" x2="310.00" y2="219.30" stroke="#1414ff" stroke-width="1.0"/>
<line x1="313.50" y1="225.70" x2="313.50" y2="222.80" stroke="#1414ff" stroke-width="1.0"/>
<line x1="321.00" y1="231.80" x2="321.00" y2="228.90" stroke="#1414ff" stroke-width="1.0"/>
<line x1="326.60" y1="234.90" x2="326.60" y2="232.00" stroke="#1414ff" stroke-width="1.0"/>
<line x1="330.70" y1="234.90" x2="330.70" y2="232.00" stroke="#1414ff" stroke-width="1.0"/>
<line x1="352.10" y1="245.80" x2="352.10" y2="242.90" stroke="#1414ff" stroke-width="1.0"/>
<line x1="356.20" y1="245.80" x2="356.20" y2="242.90" stroke="#1414ff" stroke-width="1.0"/>
<line x1="364.40" y1="251.00" x2="364.40" y2="248.10" stroke="#1414ff" stroke-width="1.0"/>
<line x1="369.50" y1="251.00" x2="369.50" y2="248.10" stroke="#1414ff" stroke-width="1.0"/>
<line x1="383.80" y1="251.00" x2="383.80" y2="248.10" stroke="#1414ff" stroke-width="1.0"/>
<line x1="390.90" y1="251.00" x2="390.90" y2="248.10" stroke="#1414ff" stroke-width="1.0"/>
<line x1="399.10" y1="251.00" x2="399.10" y2="248.10" stroke="#1414ff" stroke-width="1.0"/>
<line x1="422.20" y1="251.00" x2="422.20" y2="248.10" stroke="#1414ff" stroke-width="1.0"/>
<line x1="489.20" y1="190.10" x2="489.20" y2="295.20" stroke="#000" stroke-width="1.3"/>
<line x1="488.60" y1="294.60" x2="645.90" y2="294.60" stroke="#000" stroke-width="1.3"/>
<line x1="485.00" y1="294.60" x2="489.20" y2="294.60" stroke="#000" stroke-width="1.3"/>
<text x="483.70" y="298.30" font-size="10.3" text-anchor="end">0</text>
<line x1="485.00" y1="268.62" x2="489.20" y2="268.62" stroke="#000" stroke-width="1.3"/>
<text x="483.70" y="272.32" font-size="10.3" text-anchor="end">25</text>
<line x1="485.00" y1="242.65" x2="489.20" y2="242.65" stroke="#000" stroke-width="1.3"/>
<text x="483.70" y="246.35" font-size="10.3" text-anchor="end">50</text>
<line x1="485.00" y1="216.68" x2="489.20" y2="216.68" stroke="#000" stroke-width="1.3"/>
<text x="483.70" y="220.38" font-size="10.3" text-anchor="end">75</text>
<line x1="485.00" y1="190.70" x2="489.20" y2="190.70" stroke="#000" stroke-width="1.3"/>
<text x="483.70" y="194.40" font-size="10.3" text-anchor="end">100</text>
<line x1="489.20" y1="294.60" x2="489.20" y2="298.80" stroke="#000" stroke-width="1.3"/>
<text x="489.20" y="310.20" font-size="10.3" text-anchor="middle">0</text>
<line x1="511.50" y1="294.60" x2="511.50" y2="298.80" stroke="#000" stroke-width="1.3"/>
<text x="511.50" y="310.20" font-size="10.3" text-anchor="middle">50</text>
<line x1="533.80" y1="294.60" x2="533.80" y2="298.80" stroke="#000" stroke-width="1.3"/>
<text x="533.80" y="310.20" font-size="10.3" text-anchor="middle">100</text>
<line x1="556.10" y1="294.60" x2="556.10" y2="298.80" stroke="#000" stroke-width="1.3"/>
<text x="556.10" y="310.20" font-size="10.3" text-anchor="middle">150</text>
<line x1="578.40" y1="294.60" x2="578.40" y2="298.80" stroke="#000" stroke-width="1.3"/>
<text x="578.40" y="310.20" font-size="10.3" text-anchor="middle">200</text>
<line x1="600.70" y1="294.60" x2="600.70" y2="298.80" stroke="#000" stroke-width="1.3"/>
<text x="600.70" y="310.20" font-size="10.3" text-anchor="middle">250</text>
<line x1="623.00" y1="294.60" x2="623.00" y2="298.80" stroke="#000" stroke-width="1.3"/>
<text x="623.00" y="310.20" font-size="10.3" text-anchor="middle">300</text>
<line x1="645.30" y1="294.60" x2="645.30" y2="298.80" stroke="#000" stroke-width="1.3"/>
<text x="645.30" y="310.20" font-size="10.3" text-anchor="middle">350</text>
<line x1="490.00" y1="242.95" x2="645.30" y2="242.95" stroke="#333" stroke-width="1.4" stroke-dasharray="1.2 1.7"/>
<text x="463.10" y="240.50" font-size="10" text-anchor="middle" transform="rotate(-90 463.1 240.5)">Recurrence- free survival (%)</text>
<text x="567.25" y="325.90" font-size="10" text-anchor="middle">Time (months)</text>
<text x="567.20" y="177.60" font-size="14" text-anchor="middle">AdCC</text>
<line x1="590.80" y1="199.80" x2="602.90" y2="199.80" stroke="#1414ff" stroke-width="1.2"/>
<line x1="596.85" y1="199.80" x2="596.85" y2="197.80" stroke="#1414ff" stroke-width="1.0"/>
<text x="608.80" y="204.10" font-size="9.8">LMW-E/CDK5 (-)</text>
<line x1="590.80" y1="214.60" x2="602.90" y2="214.60" stroke="#ff1a8c" stroke-width="1.2"/>
<line x1="596.85" y1="214.60" x2="596.85" y2="212.60" stroke="#ff1a8c" stroke-width="1.0"/>
<text x="608.80" y="218.90" font-size="9.8">LMW-E/CDK5 (+)</text>
<text x="560.70" y="228.80" font-size="11.7">N=70</text>
<text x="530.40" y="259.90" font-size="11.7">N=45</text>
<text x="579.40" y="251.40" font-size="9.6" font-weight="bold" font-style="italic" fill="#8b1552">p &lt; 0.0001</text>
<path d="M489.20 190.70H489.50V190.80H490.15V192.80H490.80V194.80H491.12V196.55H491.45V198.30H491.78V200.05H492.10V201.80H492.43V203.55H492.75V205.30H493.07V207.05H493.40V208.80H493.75V210.33H494.10V211.85H494.45V213.38H494.80V214.90H495.00V216.43H495.20V217.95H495.40V219.47H495.60V221.00H496.05V222.55H496.50V224.10H496.95V225.65H497.40V227.20H497.97V228.93H498.53V230.67H499.10V232.40H500.40V234.15H501.70V235.90H502.60V242.90H506.50V242.90H507.40V245.50H508.50V247.50H509.60V249.50H510.70V251.00H511.80V252.50H512.60V255.60H515.70V256.00H516.60V258.60H517.50V263.00H524.90V265.70H526.60V268.30H529.30V270.90H542.80V273.50H555.50V277.10H557.20V280.60H571.20V282.20H572.40V284.60H619.60V284.60" fill="none" stroke="#ff1a8c" stroke-width="1.3" stroke-linejoin="miter"/>
<line x1="504.50" y1="243.20" x2="504.50" y2="240.30" stroke="#ff1a8c" stroke-width="1.0"/>
<line x1="519.60" y1="263.30" x2="519.60" y2="260.40" stroke="#ff1a8c" stroke-width="1.0"/>
<line x1="535.00" y1="271.20" x2="535.00" y2="268.30" stroke="#ff1a8c" stroke-width="1.0"/>
<line x1="548.00" y1="273.80" x2="548.00" y2="270.90" stroke="#ff1a8c" stroke-width="1.0"/>
<line x1="560.70" y1="280.90" x2="560.70" y2="278.00" stroke="#ff1a8c" stroke-width="1.0"/>
<line x1="588.80" y1="284.90" x2="588.80" y2="282.00" stroke="#ff1a8c" stroke-width="1.0"/>
<line x1="602.80" y1="284.90" x2="602.80" y2="282.00" stroke="#ff1a8c" stroke-width="1.0"/>
<line x1="619.60" y1="284.90" x2="619.60" y2="282.00" stroke="#ff1a8c" stroke-width="1.0"/>
<path d="M489.20 190.70H490.40V190.70H492.10V192.60H493.90V194.30H494.75V196.30H495.60V198.30H498.30V199.10H500.40V200.40H501.80V202.20H504.80V204.40H511.40V204.40H512.70V207.00H513.60V211.00H518.80V213.10H522.80V214.90H527.60V220.20H532.40V220.60H533.30V222.80H539.90V226.70H553.50V232.20H561.00V239.20H637.80V239.20" fill="none" stroke="#1414ff" stroke-width="1.3" stroke-linejoin="miter"/>
<line x1="494.50" y1="194.60" x2="494.50" y2="191.70" stroke="#1414ff" stroke-width="1.0"/>
<line x1="499.50" y1="199.40" x2="499.50" y2="196.50" stroke="#1414ff" stroke-width="1.0"/>
<line x1="503.00" y1="202.50" x2="503.00" y2="199.60" stroke="#1414ff" stroke-width="1.0"/>
<line x1="507.00" y1="204.70" x2="507.00" y2="201.80" stroke="#1414ff" stroke-width="1.0"/>
<line x1="509.50" y1="204.70" x2="509.50" y2="201.80" stroke="#1414ff" stroke-width="1.0"/>
<line x1="516.00" y1="211.30" x2="516.00" y2="208.40" stroke="#1414ff" stroke-width="1.0"/>
<line x1="520.50" y1="213.40" x2="520.50" y2="210.50" stroke="#1414ff" stroke-width="1.0"/>
<line x1="525.00" y1="215.20" x2="525.00" y2="212.30" stroke="#1414ff" stroke-width="1.0"/>
<line x1="530.00" y1="220.50" x2="530.00" y2="217.60" stroke="#1414ff" stroke-width="1.0"/>
<line x1="536.00" y1="223.10" x2="536.00" y2="220.20" stroke="#1414ff" stroke-width="1.0"/>
<line x1="542.00" y1="227.00" x2="542.00" y2="224.10" stroke="#1414ff" stroke-width="1.0"/>
<line x1="545.00" y1="227.00" x2="545.00" y2="224.10" stroke="#1414ff" stroke-width="1.0"/>
<line x1="548.00" y1="227.00" x2="548.00" y2="224.10" stroke="#1414ff" stroke-width="1.0"/>
<line x1="556.00" y1="232.50" x2="556.00" y2="229.60" stroke="#1414ff" stroke-width="1.0"/>
<line x1="567.70" y1="239.50" x2="567.70" y2="236.60" stroke="#1414ff" stroke-width="1.0"/>
<line x1="572.40" y1="239.50" x2="572.40" y2="236.60" stroke="#1414ff" stroke-width="1.0"/>
<line x1="577.10" y1="239.50" x2="577.10" y2="236.60" stroke="#1414ff" stroke-width="1.0"/>
<line x1="580.60" y1="239.50" x2="580.60" y2="236.60" stroke="#1414ff" stroke-width="1.0"/>
<line x1="584.10" y1="239.50" x2="584.10" y2="236.60" stroke="#1414ff" stroke-width="1.0"/>
<line x1="599.30" y1="239.50" x2="599.30" y2="236.60" stroke="#1414ff" stroke-width="1.0"/>
<line x1="615.60" y1="239.50" x2="615.60" y2="236.60" stroke="#1414ff" stroke-width="1.0"/>
<line x1="637.80" y1="239.50" x2="637.80" y2="236.60" stroke="#1414ff" stroke-width="1.0"/>
<line x1="67.10" y1="359.00" x2="67.10" y2="464.80" stroke="#000" stroke-width="1.3"/>
<line x1="66.50" y1="464.20" x2="224.00" y2="464.20" stroke="#000" stroke-width="1.3"/>
<line x1="62.90" y1="464.20" x2="67.10" y2="464.20" stroke="#000" stroke-width="1.3"/>
<text x="61.60" y="467.90" font-size="10.3" text-anchor="end">0</text>
<line x1="62.90" y1="438.05" x2="67.10" y2="438.05" stroke="#000" stroke-width="1.3"/>
<text x="61.60" y="441.75" font-size="10.3" text-anchor="end">25</text>
<line x1="62.90" y1="411.90" x2="67.10" y2="411.90" stroke="#000" stroke-width="1.3"/>
<text x="61.60" y="415.60" font-size="10.3" text-anchor="end">50</text>
<line x1="62.90" y1="385.75" x2="67.10" y2="385.75" stroke="#000" stroke-width="1.3"/>
<text x="61.60" y="389.45" font-size="10.3" text-anchor="end">75</text>
<line x1="62.90" y1="359.60" x2="67.10" y2="359.60" stroke="#000" stroke-width="1.3"/>
<text x="61.60" y="363.30" font-size="10.3" text-anchor="end">100</text>
<line x1="67.10" y1="464.20" x2="67.10" y2="468.40" stroke="#000" stroke-width="1.3"/>
<text x="67.10" y="479.80" font-size="10.3" text-anchor="middle">0</text>
<line x1="93.15" y1="464.20" x2="93.15" y2="468.40" stroke="#000" stroke-width="1.3"/>
<text x="93.15" y="479.80" font-size="10.3" text-anchor="middle">50</text>
<line x1="119.20" y1="464.20" x2="119.20" y2="468.40" stroke="#000" stroke-width="1.3"/>
<text x="119.20" y="479.80" font-size="10.3" text-anchor="middle">100</text>
<line x1="145.25" y1="464.20" x2="145.25" y2="468.40" stroke="#000" stroke-width="1.3"/>
<text x="145.25" y="479.80" font-size="10.3" text-anchor="middle">150</text>
<line x1="171.30" y1="464.20" x2="171.30" y2="468.40" stroke="#000" stroke-width="1.3"/>
<text x="171.30" y="479.80" font-size="10.3" text-anchor="middle">200</text>
<line x1="197.35" y1="464.20" x2="197.35" y2="468.40" stroke="#000" stroke-width="1.3"/>
<text x="197.35" y="479.80" font-size="10.3" text-anchor="middle">250</text>
<line x1="223.40" y1="464.20" x2="223.40" y2="468.40" stroke="#000" stroke-width="1.3"/>
<text x="223.40" y="479.80" font-size="10.3" text-anchor="middle">300</text>
<line x1="67.90" y1="412.20" x2="223.40" y2="412.20" stroke="#333" stroke-width="1.4" stroke-dasharray="1.2 1.7"/>
<text x="40.40" y="409.90" font-size="10" text-anchor="middle" transform="rotate(-90 40.4 409.9)">Recurrence- free survival (%)</text>
<text x="145.25" y="495.20" font-size="10" text-anchor="middle">Time (months)</text>
<text x="145.70" y="347.00" font-size="14" text-anchor="middle">MEC</text>
<line x1="151.20" y1="364.20" x2="162.90" y2="364.20" stroke="#1414ff" stroke-width="1.2"/>
<line x1="157.05" y1="364.20" x2="157.05" y2="362.20" stroke="#1414ff" stroke-width="1.0"/>
<text x="169.20" y="368.50" font-size="10">LMW-E (-)</text>
<line x1="151.20" y1="378.70" x2="162.90" y2="378.70" stroke="#ff1a8c" stroke-width="1.2"/>
<line x1="157.05" y1="378.70" x2="157.05" y2="376.70" stroke="#ff1a8c" stroke-width="1.0"/>
<text x="169.20" y="383.00" font-size="10">LMW-E (+)</text>
<text x="90.60" y="390.40" font-size="11.7">N=60</text>
<text x="106.80" y="444.30" font-size="11.7">N=20</text>
<text x="156.40" y="422.90" font-size="9.8" font-weight="bold" font-style="italic" fill="#8b1552">p &lt; 0.0001</text>
<path d="M67.10 359.60H67.13V361.33H67.15V363.05H67.18V364.78H67.21V366.51H67.23V368.23H67.26V369.96H67.29V371.69H67.31V373.41H67.34V375.14H67.37V376.87H67.39V378.59H67.42V380.32H67.45V382.05H67.47V383.77H67.50V385.50H67.76V387.26H68.01V389.01H68.27V390.77H68.53V392.53H68.79V394.29H69.04V396.04H69.30V397.80H69.54V399.43H69.79V401.06H70.03V402.69H70.27V404.31H70.51V405.94H70.76V407.57H71.00V409.20H72.80V411.80H74.50V417.10H75.60V427.10H86.00V439.90H99.40V452.00H193.20V452.00" fill="none" stroke="#ff1a8c" stroke-width="1.3" stroke-linejoin="miter"/>
<line x1="85.70" y1="427.40" x2="85.70" y2="424.50" stroke="#ff1a8c" stroke-width="1.0"/>
<line x1="97.60" y1="440.20" x2="97.60" y2="437.30" stroke="#ff1a8c" stroke-width="1.0"/>
<line x1="193.20" y1="452.30" x2="193.20" y2="449.40" stroke="#ff1a8c" stroke-width="1.0"/>
<path d="M67.10 359.60H67.80V362.00H68.40V364.50H70.10V368.40H80.70V370.20H81.50V374.20H83.30V374.90H86.80V375.90H88.50V377.10H92.90V379.00H120.20V385.40H133.40V395.50H137.80V405.00H222.90V405.00H222.90V464.20" fill="none" stroke="#1414ff" stroke-width="1.3" stroke-linejoin="miter"/>
<line x1="75.00" y1="368.30" x2="75.00" y2="365.40" stroke="#1414ff" stroke-width="1.0"/>
<line x1="95.50" y1="379.30" x2="95.50" y2="376.40" stroke="#1414ff" stroke-width="1.0"/>
<line x1="97.20" y1="379.30" x2="97.20" y2="376.40" stroke="#1414ff" stroke-width="1.0"/>
<line x1="98.20" y1="379.30" x2="98.20" y2="376.40" stroke="#1414ff" stroke-width="1.0"/>
<line x1="100.80" y1="379.30" x2="100.80" y2="376.40" stroke="#1414ff" stroke-width="1.0"/>
<line x1="102.00" y1="379.30" x2="102.00" y2="376.40" stroke="#1414ff" stroke-width="1.0"/>
<line x1="103.40" y1="379.30" x2="103.40" y2="376.40" stroke="#1414ff" stroke-width="1.0"/>
<line x1="106.10" y1="379.30" x2="106.10" y2="376.40" stroke="#1414ff" stroke-width="1.0"/>
<line x1="109.60" y1="379.30" x2="109.60" y2="376.40" stroke="#1414ff" stroke-width="1.0"/>
<line x1="113.10" y1="379.30" x2="113.10" y2="376.40" stroke="#1414ff" stroke-width="1.0"/>
<line x1="119.20" y1="379.30" x2="119.20" y2="376.40" stroke="#1414ff" stroke-width="1.0"/>
<line x1="123.60" y1="385.70" x2="123.60" y2="382.80" stroke="#1414ff" stroke-width="1.0"/>
<line x1="144.10" y1="405.30" x2="144.10" y2="402.40" stroke="#1414ff" stroke-width="1.0"/>
<line x1="154.10" y1="405.30" x2="154.10" y2="402.40" stroke="#1414ff" stroke-width="1.0"/>
<line x1="183.50" y1="405.30" x2="183.50" y2="402.40" stroke="#1414ff" stroke-width="1.0"/>
<line x1="192.70" y1="405.30" x2="192.70" y2="402.40" stroke="#1414ff" stroke-width="1.0"/>
<line x1="277.80" y1="359.90" x2="277.80" y2="465.00" stroke="#000" stroke-width="1.3"/>
<line x1="277.20" y1="464.40" x2="434.50" y2="464.40" stroke="#000" stroke-width="1.3"/>
<line x1="273.60" y1="464.40" x2="277.80" y2="464.40" stroke="#000" stroke-width="1.3"/>
<text x="272.30" y="468.10" font-size="10.3" text-anchor="end">0</text>
<line x1="273.60" y1="438.42" x2="277.80" y2="438.42" stroke="#000" stroke-width="1.3"/>
<text x="272.30" y="442.12" font-size="10.3" text-anchor="end">25</text>
<line x1="273.60" y1="412.45" x2="277.80" y2="412.45" stroke="#000" stroke-width="1.3"/>
<text x="272.30" y="416.15" font-size="10.3" text-anchor="end">50</text>
<line x1="273.60" y1="386.48" x2="277.80" y2="386.48" stroke="#000" stroke-width="1.3"/>
<text x="272.30" y="390.18" font-size="10.3" text-anchor="end">75</text>
<line x1="273.60" y1="360.50" x2="277.80" y2="360.50" stroke="#000" stroke-width="1.3"/>
<text x="272.30" y="364.20" font-size="10.3" text-anchor="end">100</text>
<line x1="277.80" y1="464.40" x2="277.80" y2="468.60" stroke="#000" stroke-width="1.3"/>
<text x="277.80" y="480.00" font-size="10.3" text-anchor="middle">0</text>
<line x1="303.82" y1="464.40" x2="303.82" y2="468.60" stroke="#000" stroke-width="1.3"/>
<text x="303.82" y="480.00" font-size="10.3" text-anchor="middle">50</text>
<line x1="329.83" y1="464.40" x2="329.83" y2="468.60" stroke="#000" stroke-width="1.3"/>
<text x="329.83" y="480.00" font-size="10.3" text-anchor="middle">100</text>
<line x1="355.85" y1="464.40" x2="355.85" y2="468.60" stroke="#000" stroke-width="1.3"/>
<text x="355.85" y="480.00" font-size="10.3" text-anchor="middle">150</text>
<line x1="381.87" y1="464.40" x2="381.87" y2="468.60" stroke="#000" stroke-width="1.3"/>
<text x="381.87" y="480.00" font-size="10.3" text-anchor="middle">200</text>
<line x1="407.88" y1="464.40" x2="407.88" y2="468.60" stroke="#000" stroke-width="1.3"/>
<text x="407.88" y="480.00" font-size="10.3" text-anchor="middle">250</text>
<line x1="433.90" y1="464.40" x2="433.90" y2="468.60" stroke="#000" stroke-width="1.3"/>
<text x="433.90" y="480.00" font-size="10.3" text-anchor="middle">300</text>
<line x1="278.60" y1="412.75" x2="433.90" y2="412.75" stroke="#333" stroke-width="1.4" stroke-dasharray="1.2 1.7"/>
<text x="250.90" y="410.05" font-size="10" text-anchor="middle" transform="rotate(-90 250.9 410.05)">Recurrence- free survival (%)</text>
<text x="355.85" y="495.70" font-size="10" text-anchor="middle">Time (months)</text>
<text x="356.50" y="348.00" font-size="14" text-anchor="middle">MEC</text>
<line x1="368.60" y1="361.70" x2="379.60" y2="361.70" stroke="#1414ff" stroke-width="1.2"/>
<line x1="374.10" y1="361.70" x2="374.10" y2="359.70" stroke="#1414ff" stroke-width="1.0"/>
<text x="386.10" y="366.00" font-size="10">CDK5 (-)</text>
<line x1="368.60" y1="376.00" x2="379.60" y2="376.00" stroke="#ff1a8c" stroke-width="1.2"/>
<line x1="374.10" y1="376.00" x2="374.10" y2="374.00" stroke="#ff1a8c" stroke-width="1.0"/>
<text x="386.10" y="380.30" font-size="10">CDK5 (+)</text>
<text x="318.80" y="379.00" font-size="11.7">N=47</text>
<text x="355.50" y="429.90" font-size="11.7">N=32</text>
<text x="382.00" y="407.70" font-size="9.8" font-weight="bold" font-style="italic" fill="#8b1552">p = 0.0154</text>
<path d="M277.80 360.50H277.90V362.43H278.00V364.37H278.10V366.30H278.36V367.88H278.62V369.46H278.88V371.04H279.14V372.62H279.40V374.20H280.13V375.93H280.87V377.67H281.60V379.40H282.05V381.15H282.50V382.90H282.95V384.65H283.40V386.40H286.00V390.80H287.80V396.10H292.20V397.80H293.00V400.40H297.40V403.10H298.30V405.70H303.50V407.40H307.90V408.70H310.60V412.10H330.50V420.90H348.90V435.80H432.80V464.40" fill="none" stroke="#ff1a8c" stroke-width="1.3" stroke-linejoin="miter"/>
<line x1="291.00" y1="396.40" x2="291.00" y2="393.50" stroke="#ff1a8c" stroke-width="1.0"/>
<line x1="296.50" y1="400.70" x2="296.50" y2="397.80" stroke="#ff1a8c" stroke-width="1.0"/>
<line x1="307.00" y1="407.70" x2="307.00" y2="404.80" stroke="#ff1a8c" stroke-width="1.0"/>
<line x1="313.20" y1="412.40" x2="313.20" y2="409.50" stroke="#ff1a8c" stroke-width="1.0"/>
<line x1="317.60" y1="412.40" x2="317.60" y2="409.50" stroke="#ff1a8c" stroke-width="1.0"/>
<line x1="324.40" y1="412.40" x2="324.40" y2="409.50" stroke="#ff1a8c" stroke-width="1.0"/>
<line x1="334.20" y1="421.20" x2="334.20" y2="418.30" stroke="#ff1a8c" stroke-width="1.0"/>
<line x1="403.90" y1="436.10" x2="403.90" y2="433.20" stroke="#ff1a8c" stroke-width="1.0"/>
<path d="M277.80 360.50H278.20V362.00H278.47V363.43H278.73V364.87H279.00V366.30H279.60V368.03H280.20V369.77H280.80V371.50H281.60V373.80H290.80V375.90H293.00V377.70H297.00V380.00H298.60V384.30H344.20V398.30H403.20V398.30" fill="none" stroke="#1414ff" stroke-width="1.3" stroke-linejoin="miter"/>
<line x1="285.70" y1="374.10" x2="285.70" y2="371.20" stroke="#1414ff" stroke-width="1.0"/>
<line x1="304.40" y1="384.60" x2="304.40" y2="381.70" stroke="#1414ff" stroke-width="1.0"/>
<line x1="307.00" y1="384.60" x2="307.00" y2="381.70" stroke="#1414ff" stroke-width="1.0"/>
<line x1="309.70" y1="384.60" x2="309.70" y2="381.70" stroke="#1414ff" stroke-width="1.0"/>
<line x1="311.40" y1="384.60" x2="311.40" y2="381.70" stroke="#1414ff" stroke-width="1.0"/>
<line x1="315.80" y1="384.60" x2="315.80" y2="381.70" stroke="#1414ff" stroke-width="1.0"/>
<line x1="322.80" y1="384.60" x2="322.80" y2="381.70" stroke="#1414ff" stroke-width="1.0"/>
<line x1="331.40" y1="384.60" x2="331.40" y2="381.70" stroke="#1414ff" stroke-width="1.0"/>
<line x1="349.60" y1="398.60" x2="349.60" y2="395.70" stroke="#1414ff" stroke-width="1.0"/>
<line x1="355.00" y1="398.60" x2="355.00" y2="395.70" stroke="#1414ff" stroke-width="1.0"/>
<line x1="365.30" y1="398.60" x2="365.30" y2="395.70" stroke="#1414ff" stroke-width="1.0"/>
<line x1="394.40" y1="398.60" x2="394.40" y2="395.70" stroke="#1414ff" stroke-width="1.0"/>
<line x1="403.20" y1="398.60" x2="403.20" y2="395.70" stroke="#1414ff" stroke-width="1.0"/>
<line x1="494.50" y1="360.90" x2="494.50" y2="466.40" stroke="#000" stroke-width="1.3"/>
<line x1="493.90" y1="465.80" x2="651.10" y2="465.80" stroke="#000" stroke-width="1.3"/>
<line x1="490.30" y1="465.80" x2="494.50" y2="465.80" stroke="#000" stroke-width="1.3"/>
<text x="489.00" y="469.50" font-size="10.3" text-anchor="end">0</text>
<line x1="490.30" y1="439.73" x2="494.50" y2="439.73" stroke="#000" stroke-width="1.3"/>
<text x="489.00" y="443.43" font-size="10.3" text-anchor="end">25</text>
<line x1="490.30" y1="413.65" x2="494.50" y2="413.65" stroke="#000" stroke-width="1.3"/>
<text x="489.00" y="417.35" font-size="10.3" text-anchor="end">50</text>
<line x1="490.30" y1="387.57" x2="494.50" y2="387.57" stroke="#000" stroke-width="1.3"/>
<text x="489.00" y="391.27" font-size="10.3" text-anchor="end">75</text>
<line x1="490.30" y1="361.50" x2="494.50" y2="361.50" stroke="#000" stroke-width="1.3"/>
<text x="489.00" y="365.20" font-size="10.3" text-anchor="end">100</text>
<line x1="494.50" y1="465.80" x2="494.50" y2="470.00" stroke="#000" stroke-width="1.3"/>
<text x="494.50" y="481.40" font-size="10.3" text-anchor="middle">0</text>
<line x1="520.50" y1="465.80" x2="520.50" y2="470.00" stroke="#000" stroke-width="1.3"/>
<text x="520.50" y="481.40" font-size="10.3" text-anchor="middle">50</text>
<line x1="546.50" y1="465.80" x2="546.50" y2="470.00" stroke="#000" stroke-width="1.3"/>
<text x="546.50" y="481.40" font-size="10.3" text-anchor="middle">100</text>
<line x1="572.50" y1="465.80" x2="572.50" y2="470.00" stroke="#000" stroke-width="1.3"/>
<text x="572.50" y="481.40" font-size="10.3" text-anchor="middle">150</text>
<line x1="598.50" y1="465.80" x2="598.50" y2="470.00" stroke="#000" stroke-width="1.3"/>
<text x="598.50" y="481.40" font-size="10.3" text-anchor="middle">200</text>
<line x1="624.50" y1="465.80" x2="624.50" y2="470.00" stroke="#000" stroke-width="1.3"/>
<text x="624.50" y="481.40" font-size="10.3" text-anchor="middle">250</text>
<line x1="650.50" y1="465.80" x2="650.50" y2="470.00" stroke="#000" stroke-width="1.3"/>
<text x="650.50" y="481.40" font-size="10.3" text-anchor="middle">300</text>
<line x1="495.30" y1="413.95" x2="650.50" y2="413.95" stroke="#333" stroke-width="1.4" stroke-dasharray="1.2 1.7"/>
<text x="468.10" y="410.90" font-size="10" text-anchor="middle" transform="rotate(-90 468.1 410.9)">Recurrence- free survival (%)</text>
<text x="572.50" y="497.10" font-size="10" text-anchor="middle">Time (months)</text>
<text x="572.90" y="348.60" font-size="14" text-anchor="middle">MEC</text>
<line x1="584.00" y1="367.00" x2="595.70" y2="367.00" stroke="#1414ff" stroke-width="1.2"/>
<line x1="589.85" y1="367.00" x2="589.85" y2="365.00" stroke="#1414ff" stroke-width="1.0"/>
<text x="601.80" y="371.30" font-size="9.8">LMW-E/CDK5 (-)</text>
<line x1="584.00" y1="380.80" x2="595.70" y2="380.80" stroke="#ff1a8c" stroke-width="1.2"/>
<line x1="589.85" y1="380.80" x2="589.85" y2="378.80" stroke="#ff1a8c" stroke-width="1.0"/>
<text x="601.80" y="385.10" font-size="9.8">LMW-E/CDK5 (+)</text>
<text x="522.90" y="394.30" font-size="11.7">N=43</text>
<text x="534.90" y="443.20" font-size="11.7">N=15</text>
<text x="587.50" y="409.50" font-size="9.9" font-weight="bold" font-style="italic" fill="#8b1552">p &lt; 0.0001</text>
<path d="M494.50 361.50H494.50V375.00H494.82V376.75H495.15V378.50H495.48V380.25H495.80V382.00H495.90V383.76H496.00V385.52H496.10V387.29H496.20V389.05H496.30V390.81H496.40V392.58H496.50V394.34H496.60V396.10H496.80V397.88H497.00V399.66H497.20V401.44H497.40V403.22H497.60V405.00H498.70V409.50H500.80V411.30H502.90V431.00H513.60V439.70H526.20V452.30H620.30V452.30" fill="none" stroke="#ff1a8c" stroke-width="1.3" stroke-linejoin="miter"/>
<line x1="512.60" y1="431.30" x2="512.60" y2="428.40" stroke="#ff1a8c" stroke-width="1.0"/>
<line x1="524.40" y1="440.00" x2="524.40" y2="437.10" stroke="#ff1a8c" stroke-width="1.0"/>
<line x1="620.30" y1="452.60" x2="620.30" y2="449.70" stroke="#ff1a8c" stroke-width="1.0"/>
<path d="M494.50 361.50H494.80V363.10H495.10V364.70H495.40V366.30H496.60V371.50H506.10V373.30H508.00V376.80H514.50V380.30H560.60V394.70H619.10V394.70" fill="none" stroke="#1414ff" stroke-width="1.3" stroke-linejoin="miter"/>
<line x1="501.90" y1="371.80" x2="501.90" y2="368.90" stroke="#1414ff" stroke-width="1.0"/>
<line x1="509.00" y1="377.10" x2="509.00" y2="374.20" stroke="#1414ff" stroke-width="1.0"/>
<line x1="513.30" y1="377.10" x2="513.30" y2="374.20" stroke="#1414ff" stroke-width="1.0"/>
<line x1="520.30" y1="380.60" x2="520.30" y2="377.70" stroke="#1414ff" stroke-width="1.0"/>
<line x1="523.80" y1="380.60" x2="523.80" y2="377.70" stroke="#1414ff" stroke-width="1.0"/>
<line x1="526.40" y1="380.60" x2="526.40" y2="377.70" stroke="#1414ff" stroke-width="1.0"/>
<line x1="528.20" y1="380.60" x2="528.20" y2="377.70" stroke="#1414ff" stroke-width="1.0"/>
<line x1="531.70" y1="380.60" x2="531.70" y2="377.70" stroke="#1414ff" stroke-width="1.0"/>
<line x1="537.80" y1="380.60" x2="537.80" y2="377.70" stroke="#1414ff" stroke-width="1.0"/>
<line x1="548.00" y1="380.60" x2="548.00" y2="377.70" stroke="#1414ff" stroke-width="1.0"/>
<line x1="565.20" y1="395.00" x2="565.20" y2="392.10" stroke="#1414ff" stroke-width="1.0"/>
<line x1="571.30" y1="395.00" x2="571.30" y2="392.10" stroke="#1414ff" stroke-width="1.0"/>
<line x1="581.50" y1="395.00" x2="581.50" y2="392.10" stroke="#1414ff" stroke-width="1.0"/>
<line x1="610.10" y1="395.00" x2="610.10" y2="392.10" stroke="#1414ff" stroke-width="1.0"/>
<line x1="619.10" y1="395.00" x2="619.10" y2="392.10" stroke="#1414ff" stroke-width="1.0"/>
<line x1="68.30" y1="527.50" x2="68.30" y2="633.00" stroke="#000" stroke-width="1.3"/>
<line x1="67.70" y1="632.40" x2="225.30" y2="632.40" stroke="#000" stroke-width="1.3"/>
<line x1="64.10" y1="632.40" x2="68.30" y2="632.40" stroke="#000" stroke-width="1.3"/>
<text x="62.80" y="636.10" font-size="10.3" text-anchor="end">0</text>
<line x1="64.10" y1="606.33" x2="68.30" y2="606.33" stroke="#000" stroke-width="1.3"/>
<text x="62.80" y="610.03" font-size="10.3" text-anchor="end">25</text>
<line x1="64.10" y1="580.25" x2="68.30" y2="580.25" stroke="#000" stroke-width="1.3"/>
<text x="62.80" y="583.95" font-size="10.3" text-anchor="end">50</text>
<line x1="64.10" y1="554.17" x2="68.30" y2="554.17" stroke="#000" stroke-width="1.3"/>
<text x="62.80" y="557.88" font-size="10.3" text-anchor="end">75</text>
<line x1="64.10" y1="528.10" x2="68.30" y2="528.10" stroke="#000" stroke-width="1.3"/>
<text x="62.80" y="531.80" font-size="10.3" text-anchor="end">100</text>
<line x1="68.30" y1="632.40" x2="68.30" y2="636.60" stroke="#000" stroke-width="1.3"/>
<text x="68.30" y="648.00" font-size="10.3" text-anchor="middle">0</text>
<line x1="99.58" y1="632.40" x2="99.58" y2="636.60" stroke="#000" stroke-width="1.3"/>
<text x="99.58" y="648.00" font-size="10.3" text-anchor="middle">50</text>
<line x1="130.86" y1="632.40" x2="130.86" y2="636.60" stroke="#000" stroke-width="1.3"/>
<text x="130.86" y="648.00" font-size="10.3" text-anchor="middle">100</text>
<line x1="162.14" y1="632.40" x2="162.14" y2="636.60" stroke="#000" stroke-width="1.3"/>
<text x="162.14" y="648.00" font-size="10.3" text-anchor="middle">150</text>
<line x1="193.42" y1="632.40" x2="193.42" y2="636.60" stroke="#000" stroke-width="1.3"/>
<text x="193.42" y="648.00" font-size="10.3" text-anchor="middle">200</text>
<line x1="224.70" y1="632.40" x2="224.70" y2="636.60" stroke="#000" stroke-width="1.3"/>
<text x="224.70" y="648.00" font-size="10.3" text-anchor="middle">250</text>
<line x1="69.10" y1="580.55" x2="224.70" y2="580.55" stroke="#333" stroke-width="1.4" stroke-dasharray="1.2 1.7"/>
<text x="41.70" y="578.05" font-size="10" text-anchor="middle" transform="rotate(-90 41.7 578.05)">Recurrence- free survival (%)</text>
<text x="146.50" y="663.70" font-size="10" text-anchor="middle">Time (months)</text>
<text x="146.50" y="515.20" font-size="14" text-anchor="middle">SDC</text>
<line x1="163.50" y1="534.20" x2="175.50" y2="534.20" stroke="#1414ff" stroke-width="1.2"/>
<line x1="169.50" y1="534.20" x2="169.50" y2="532.20" stroke="#1414ff" stroke-width="1.0"/>
<text x="181.70" y="538.50" font-size="10">LMW-E (-)</text>
<line x1="163.50" y1="549.00" x2="175.50" y2="549.00" stroke="#ff1a8c" stroke-width="1.2"/>
<line x1="169.50" y1="549.00" x2="169.50" y2="547.00" stroke="#ff1a8c" stroke-width="1.0"/>
<text x="181.70" y="553.30" font-size="10">LMW-E (+)</text>
<text x="140.00" y="572.10" font-size="11.7">N=38</text>
<text x="109.30" y="601.30" font-size="11.7">N=54</text>
<text x="174.30" y="590.20" font-size="9.9" font-weight="bold" font-style="italic" fill="#8b1552">p =0.0065</text>
<path d="M68.30 528.10H68.40V535.70H69.80V538.00H70.70V540.40H70.90V542.33H71.10V544.27H71.30V546.20H71.75V548.25H72.20V550.30H72.75V552.05H73.30V553.80H74.50V555.00H74.56V556.74H74.62V558.48H74.68V560.22H74.74V561.96H74.80V563.70H74.97V565.35H75.15V567.00H75.33V568.65H75.50V570.30H77.30V570.80H78.40V573.80H79.00V577.80H79.60V582.50H80.50V585.70H82.20V586.30H82.50V591.30H84.60V593.00H86.00V596.00H88.90V596.50H90.10V601.20H98.30V601.20H98.60V604.70H103.50V605.30H103.80V608.60H121.70V613.30H175.60V613.30" fill="none" stroke="#ff1a8c" stroke-width="1.3" stroke-linejoin="miter"/>
<line x1="85.50" y1="596.30" x2="85.50" y2="593.40" stroke="#ff1a8c" stroke-width="1.0"/>
<line x1="94.20" y1="601.50" x2="94.20" y2="598.60" stroke="#ff1a8c" stroke-width="1.0"/>
<line x1="96.80" y1="601.50" x2="96.80" y2="598.60" stroke="#ff1a8c" stroke-width="1.0"/>
<line x1="113.90" y1="608.90" x2="113.90" y2="606.00" stroke="#ff1a8c" stroke-width="1.0"/>
<line x1="127.00" y1="613.60" x2="127.00" y2="610.70" stroke="#ff1a8c" stroke-width="1.0"/>
<line x1="129.60" y1="613.60" x2="129.60" y2="610.70" stroke="#ff1a8c" stroke-width="1.0"/>
<line x1="154.10" y1="613.60" x2="154.10" y2="610.70" stroke="#ff1a8c" stroke-width="1.0"/>
<line x1="175.60" y1="613.60" x2="175.60" y2="610.70" stroke="#ff1a8c" stroke-width="1.0"/>
<path d="M68.30 528.10H68.40V535.70H69.00V538.90H72.50V539.50H73.30V541.50H74.50V543.90H75.40V546.20H75.70V554.40H77.40V554.70H77.70V556.30H78.00V557.90H78.60V559.65H79.20V561.40H79.80V564.30H91.20V564.30H92.00V567.20H92.60V572.20H104.70V572.20H105.00V577.60H212.40V577.60" fill="none" stroke="#1414ff" stroke-width="1.3" stroke-linejoin="miter"/>
<line x1="71.00" y1="539.80" x2="71.00" y2="536.90" stroke="#1414ff" stroke-width="1.0"/>
<line x1="83.90" y1="564.60" x2="83.90" y2="561.70" stroke="#1414ff" stroke-width="1.0"/>
<line x1="89.20" y1="564.60" x2="89.20" y2="561.70" stroke="#1414ff" stroke-width="1.0"/>
<line x1="94.00" y1="572.50" x2="94.00" y2="569.60" stroke="#1414ff" stroke-width="1.0"/>
<line x1="100.50" y1="572.50" x2="100.50" y2="569.60" stroke="#1414ff" stroke-width="1.0"/>
<line x1="102.50" y1="572.50" x2="102.50" y2="569.60" stroke="#1414ff" stroke-width="1.0"/>
<line x1="116.30" y1="577.90" x2="116.30" y2="575.00" stroke="#1414ff" stroke-width="1.0"/>
<line x1="119.80" y1="577.90" x2="119.80" y2="575.00" stroke="#1414ff" stroke-width="1.0"/>
<line x1="126.80" y1="577.90" x2="126.80" y2="575.00" stroke="#1414ff" stroke-width="1.0"/>
<line x1="129.50" y1="577.90" x2="129.50" y2="575.00" stroke="#1414ff" stroke-width="1.0"/>
<line x1="151.40" y1="577.90" x2="151.40" y2="575.00" stroke="#1414ff" stroke-width="1.0"/>
<line x1="160.10" y1="577.90" x2="160.10" y2="575.00" stroke="#1414ff" stroke-width="1.0"/>
<line x1="212.40" y1="577.90" x2="212.40" y2="575.00" stroke="#1414ff" stroke-width="1.0"/>
<line x1="274.60" y1="527.50" x2="274.60" y2="632.90" stroke="#000" stroke-width="1.3"/>
<line x1="274.00" y1="632.30" x2="430.60" y2="632.30" stroke="#000" stroke-width="1.3"/>
<line x1="270.40" y1="632.30" x2="274.60" y2="632.30" stroke="#000" stroke-width="1.3"/>
<text x="269.10" y="636.00" font-size="10.3" text-anchor="end">0</text>
<line x1="270.40" y1="606.25" x2="274.60" y2="606.25" stroke="#000" stroke-width="1.3"/>
<text x="269.10" y="609.95" font-size="10.3" text-anchor="end">25</text>
<line x1="270.40" y1="580.20" x2="274.60" y2="580.20" stroke="#000" stroke-width="1.3"/>
<text x="269.10" y="583.90" font-size="10.3" text-anchor="end">50</text>
<line x1="270.40" y1="554.15" x2="274.60" y2="554.15" stroke="#000" stroke-width="1.3"/>
<text x="269.10" y="557.85" font-size="10.3" text-anchor="end">75</text>
<line x1="270.40" y1="528.10" x2="274.60" y2="528.10" stroke="#000" stroke-width="1.3"/>
<text x="269.10" y="531.80" font-size="10.3" text-anchor="end">100</text>
<line x1="274.60" y1="632.30" x2="274.60" y2="636.50" stroke="#000" stroke-width="1.3"/>
<text x="274.60" y="647.90" font-size="10.3" text-anchor="middle">0</text>
<line x1="305.68" y1="632.30" x2="305.68" y2="636.50" stroke="#000" stroke-width="1.3"/>
<text x="305.68" y="647.90" font-size="10.3" text-anchor="middle">50</text>
<line x1="336.76" y1="632.30" x2="336.76" y2="636.50" stroke="#000" stroke-width="1.3"/>
<text x="336.76" y="647.90" font-size="10.3" text-anchor="middle">100</text>
<line x1="367.84" y1="632.30" x2="367.84" y2="636.50" stroke="#000" stroke-width="1.3"/>
<text x="367.84" y="647.90" font-size="10.3" text-anchor="middle">150</text>
<line x1="398.92" y1="632.30" x2="398.92" y2="636.50" stroke="#000" stroke-width="1.3"/>
<text x="398.92" y="647.90" font-size="10.3" text-anchor="middle">200</text>
<line x1="430.00" y1="632.30" x2="430.00" y2="636.50" stroke="#000" stroke-width="1.3"/>
<text x="430.00" y="647.90" font-size="10.3" text-anchor="middle">250</text>
<line x1="275.40" y1="580.50" x2="430.00" y2="580.50" stroke="#333" stroke-width="1.4" stroke-dasharray="1.2 1.7"/>
<text x="248.70" y="578.70" font-size="10" text-anchor="middle" transform="rotate(-90 248.7 578.7)">Recurrence- free survival (%)</text>
<text x="352.30" y="663.60" font-size="10" text-anchor="middle">Time (months)</text>
<text x="352.60" y="515.20" font-size="14" text-anchor="middle">SDC</text>
<line x1="367.10" y1="538.50" x2="378.80" y2="538.50" stroke="#1414ff" stroke-width="1.2"/>
<line x1="372.95" y1="538.50" x2="372.95" y2="536.50" stroke="#1414ff" stroke-width="1.0"/>
<text x="385.10" y="542.80" font-size="10">CDK5 (-)</text>
<line x1="367.10" y1="552.80" x2="378.80" y2="552.80" stroke="#ff1a8c" stroke-width="1.2"/>
<line x1="372.95" y1="552.80" x2="372.95" y2="550.80" stroke="#ff1a8c" stroke-width="1.0"/>
<text x="385.10" y="557.10" font-size="10">CDK5 (+)</text>
<text x="326.80" y="576.80" font-size="11.7">N=40</text>
<text x="314.40" y="606.90" font-size="11.7">N=52</text>
<text x="374.00" y="576.30" font-size="9.9" font-weight="bold" font-style="italic" fill="#8b1552">p =0.0080</text>
<path d="M274.60 528.10H274.66V529.86H274.71V531.61H274.77V533.37H274.82V535.12H274.88V536.88H274.93V538.63H274.99V540.39H275.04V542.14H275.10V543.90H276.80V545.00H276.95V546.60H277.10V548.20H277.25V549.80H277.40V551.40H278.60V553.80H279.50V556.10H280.35V557.40H281.20V558.70H281.30V560.37H281.40V562.03H281.50V563.70H281.56V565.42H281.62V567.14H281.68V568.86H281.74V570.58H281.80V572.30H283.50V572.60H283.80V574.60H285.30V575.50H285.60V580.80H286.20V585.40H288.20V586.30H288.50V590.10H291.40V590.70H292.00V595.40H296.10V595.40H296.70V599.50H298.10V601.80H304.60V603.20H304.90V606.50H311.30V606.50H311.60V610.30H381.90V610.30" fill="none" stroke="#ff1a8c" stroke-width="1.3" stroke-linejoin="miter"/>
<line x1="293.50" y1="595.70" x2="293.50" y2="592.80" stroke="#ff1a8c" stroke-width="1.0"/>
<line x1="300.50" y1="603.50" x2="300.50" y2="600.60" stroke="#ff1a8c" stroke-width="1.0"/>
<line x1="302.50" y1="603.50" x2="302.50" y2="600.60" stroke="#ff1a8c" stroke-width="1.0"/>
<line x1="325.40" y1="610.60" x2="325.40" y2="607.70" stroke="#ff1a8c" stroke-width="1.0"/>
<line x1="334.60" y1="610.60" x2="334.60" y2="607.70" stroke="#ff1a8c" stroke-width="1.0"/>
<line x1="359.60" y1="610.60" x2="359.60" y2="607.70" stroke="#ff1a8c" stroke-width="1.0"/>
<line x1="381.90" y1="610.60" x2="381.90" y2="607.70" stroke="#ff1a8c" stroke-width="1.0"/>
<path d="M274.60 528.10H274.60V528.40H275.10V531.00H277.40V531.30H277.70V532.90H278.00V534.50H278.45V535.95H278.90V537.40H280.10V539.80H280.50V541.55H280.90V543.30H281.20V545.35H281.50V547.40H281.60V549.13H281.70V550.87H281.80V552.60H283.30V553.80H284.40V556.10H285.30V557.90H285.60V562.50H286.80V564.30H287.90V565.80H289.10V566.50H289.40V569.10H298.10V569.10H298.70V572.30H309.00V572.30H309.50V577.30H327.20V584.70H418.20V584.70" fill="none" stroke="#1414ff" stroke-width="1.3" stroke-linejoin="miter"/>
<line x1="291.50" y1="569.40" x2="291.50" y2="566.50" stroke="#1414ff" stroke-width="1.0"/>
<line x1="293.50" y1="569.40" x2="293.50" y2="566.50" stroke="#1414ff" stroke-width="1.0"/>
<line x1="296.50" y1="569.40" x2="296.50" y2="566.50" stroke="#1414ff" stroke-width="1.0"/>
<line x1="300.50" y1="572.60" x2="300.50" y2="569.70" stroke="#1414ff" stroke-width="1.0"/>
<line x1="307.50" y1="572.60" x2="307.50" y2="569.70" stroke="#1414ff" stroke-width="1.0"/>
<line x1="312.00" y1="577.60" x2="312.00" y2="574.70" stroke="#1414ff" stroke-width="1.0"/>
<line x1="321.60" y1="577.60" x2="321.60" y2="574.70" stroke="#1414ff" stroke-width="1.0"/>
<line x1="333.00" y1="585.00" x2="333.00" y2="582.10" stroke="#1414ff" stroke-width="1.0"/>
<line x1="357.00" y1="585.00" x2="357.00" y2="582.10" stroke="#1414ff" stroke-width="1.0"/>
<line x1="365.60" y1="585.00" x2="365.60" y2="582.10" stroke="#1414ff" stroke-width="1.0"/>
<line x1="418.20" y1="585.00" x2="418.20" y2="582.10" stroke="#1414ff" stroke-width="1.0"/>
<line x1="491.60" y1="528.10" x2="491.60" y2="634.20" stroke="#000" stroke-width="1.3"/>
<line x1="491.00" y1="633.60" x2="649.00" y2="633.60" stroke="#000" stroke-width="1.3"/>
<line x1="487.40" y1="633.60" x2="491.60" y2="633.60" stroke="#000" stroke-width="1.3"/>
<text x="486.10" y="637.30" font-size="10.3" text-anchor="end">0</text>
<line x1="487.40" y1="607.38" x2="491.60" y2="607.38" stroke="#000" stroke-width="1.3"/>
<text x="486.10" y="611.08" font-size="10.3" text-anchor="end">25</text>
<line x1="487.40" y1="581.15" x2="491.60" y2="581.15" stroke="#000" stroke-width="1.3"/>
<text x="486.10" y="584.85" font-size="10.3" text-anchor="end">50</text>
<line x1="487.40" y1="554.93" x2="491.60" y2="554.93" stroke="#000" stroke-width="1.3"/>
<text x="486.10" y="558.63" font-size="10.3" text-anchor="end">75</text>
<line x1="487.40" y1="528.70" x2="491.60" y2="528.70" stroke="#000" stroke-width="1.3"/>
<text x="486.10" y="532.40" font-size="10.3" text-anchor="end">100</text>
<line x1="491.60" y1="633.60" x2="491.60" y2="637.80" stroke="#000" stroke-width="1.3"/>
<text x="491.60" y="649.20" font-size="10.3" text-anchor="middle">0</text>
<line x1="522.96" y1="633.60" x2="522.96" y2="637.80" stroke="#000" stroke-width="1.3"/>
<text x="522.96" y="649.20" font-size="10.3" text-anchor="middle">50</text>
<line x1="554.32" y1="633.60" x2="554.32" y2="637.80" stroke="#000" stroke-width="1.3"/>
<text x="554.32" y="649.20" font-size="10.3" text-anchor="middle">100</text>
<line x1="585.68" y1="633.60" x2="585.68" y2="637.80" stroke="#000" stroke-width="1.3"/>
<text x="585.68" y="649.20" font-size="10.3" text-anchor="middle">150</text>
<line x1="617.04" y1="633.60" x2="617.04" y2="637.80" stroke="#000" stroke-width="1.3"/>
<text x="617.04" y="649.20" font-size="10.3" text-anchor="middle">200</text>
<line x1="648.40" y1="633.60" x2="648.40" y2="637.80" stroke="#000" stroke-width="1.3"/>
<text x="648.40" y="649.20" font-size="10.3" text-anchor="middle">250</text>
<line x1="492.40" y1="581.45" x2="648.40" y2="581.45" stroke="#333" stroke-width="1.4" stroke-dasharray="1.2 1.7"/>
<text x="465.10" y="578.90" font-size="10" text-anchor="middle" transform="rotate(-90 465.1 578.9000000000001)">Recurrence- free survival (%)</text>
<text x="570.00" y="664.90" font-size="10" text-anchor="middle">Time (months)</text>
<text x="570.00" y="515.90" font-size="14" text-anchor="middle">SDC</text>
<line x1="569.60" y1="533.20" x2="581.70" y2="533.20" stroke="#1414ff" stroke-width="1.2"/>
<line x1="575.65" y1="533.20" x2="575.65" y2="531.20" stroke="#1414ff" stroke-width="1.0"/>
<text x="587.60" y="537.50" font-size="9.8">LMW-E/CDK5 (-)</text>
<line x1="569.60" y1="548.30" x2="581.70" y2="548.30" stroke="#ff1a8c" stroke-width="1.2"/>
<line x1="575.65" y1="548.30" x2="575.65" y2="546.30" stroke="#ff1a8c" stroke-width="1.0"/>
<text x="587.60" y="552.60" font-size="9.8">LMW-E/CDK5 (+)</text>
<text x="525.00" y="556.60" font-size="11.7">N=28</text>
<text x="531.70" y="602.70" font-size="11.7">N=42</text>
<text x="587.50" y="574.50" font-size="9.85" font-weight="bold" font-style="italic" fill="#8b1552">p =0.0018</text>
<path d="M491.60 528.70H491.68V530.35H491.77V532.00H491.85V533.65H491.93V535.30H492.02V536.95H492.10V538.60H492.80V540.05H493.50V541.50H493.80V543.25H494.10V545.00H494.30V546.97H494.50V548.93H494.70V550.90H495.90V551.40H496.50V555.00H497.30V556.70H498.50V559.00H498.60V560.77H498.70V562.53H498.80V564.30H498.90V566.08H499.00V567.86H499.10V569.64H499.20V571.42H499.30V573.20H500.70V574.10H501.30V576.10H502.50V577.60H502.60V579.03H502.70V580.47H502.80V581.90H502.93V583.45H503.05V585.00H503.18V586.55H503.30V588.10H506.00V588.40H506.00V593.30H508.30V593.60H508.90V596.50H509.50V599.20H513.60V599.50H513.90V602.40H514.10V605.30H522.30V605.30H522.60V611.40H599.80V611.40" fill="none" stroke="#ff1a8c" stroke-width="1.3" stroke-linejoin="miter"/>
<line x1="511.50" y1="599.80" x2="511.50" y2="596.90" stroke="#ff1a8c" stroke-width="1.0"/>
<line x1="516.50" y1="605.60" x2="516.50" y2="602.70" stroke="#ff1a8c" stroke-width="1.0"/>
<line x1="518.00" y1="605.60" x2="518.00" y2="602.70" stroke="#ff1a8c" stroke-width="1.0"/>
<line x1="519.10" y1="605.60" x2="519.10" y2="602.70" stroke="#ff1a8c" stroke-width="1.0"/>
<line x1="520.60" y1="605.60" x2="520.60" y2="602.70" stroke="#ff1a8c" stroke-width="1.0"/>
<line x1="550.70" y1="611.70" x2="550.70" y2="608.80" stroke="#ff1a8c" stroke-width="1.0"/>
<line x1="553.30" y1="611.70" x2="553.30" y2="608.80" stroke="#ff1a8c" stroke-width="1.0"/>
<line x1="577.50" y1="611.70" x2="577.50" y2="608.80" stroke="#ff1a8c" stroke-width="1.0"/>
<line x1="599.80" y1="611.70" x2="599.80" y2="608.80" stroke="#ff1a8c" stroke-width="1.0"/>
<path d="M491.60 528.70H492.10V532.50H496.20V532.50H496.50V534.10H496.80V535.70H497.60V538.00H498.05V539.75H498.50V541.50H498.80V543.55H499.10V545.60H499.40V549.10H501.10V550.00H501.40V554.10H502.60V554.40H502.90V559.00H516.00V559.00H516.30V564.00H636.60V564.00" fill="none" stroke="#1414ff" stroke-width="1.3" stroke-linejoin="miter"/>
<line x1="508.00" y1="559.30" x2="508.00" y2="556.40" stroke="#1414ff" stroke-width="1.0"/>
<line x1="514.20" y1="559.30" x2="514.20" y2="556.40" stroke="#1414ff" stroke-width="1.0"/>
<line x1="517.50" y1="564.30" x2="517.50" y2="561.40" stroke="#1414ff" stroke-width="1.0"/>
<line x1="526.40" y1="564.30" x2="526.40" y2="561.40" stroke="#1414ff" stroke-width="1.0"/>
<line x1="529.00" y1="564.30" x2="529.00" y2="561.40" stroke="#1414ff" stroke-width="1.0"/>
<line x1="539.60" y1="564.30" x2="539.60" y2="561.40" stroke="#1414ff" stroke-width="1.0"/>
<line x1="551.00" y1="564.30" x2="551.00" y2="561.40" stroke="#1414ff" stroke-width="1.0"/>
<line x1="575.50" y1="564.30" x2="575.50" y2="561.40" stroke="#1414ff" stroke-width="1.0"/>
<line x1="583.40" y1="564.30" x2="583.40" y2="561.40" stroke="#1414ff" stroke-width="1.0"/>
<line x1="636.60" y1="564.30" x2="636.60" y2="561.40" stroke="#1414ff" stroke-width="1.0"/>
<line x1="60.20" y1="695.30" x2="60.20" y2="822.20" stroke="#000" stroke-width="1.3"/>
<line x1="59.60" y1="821.60" x2="188.80" y2="821.60" stroke="#000" stroke-width="1.3"/>
<line x1="55.00" y1="821.60" x2="60.20" y2="821.60" stroke="#000" stroke-width="1.3"/>
<text x="53.70" y="825.70" font-size="11.5" text-anchor="end">0</text>
<line x1="55.00" y1="796.46" x2="60.20" y2="796.46" stroke="#000" stroke-width="1.3"/>
<text x="53.70" y="800.56" font-size="11.5" text-anchor="end">20</text>
<line x1="55.00" y1="771.32" x2="60.20" y2="771.32" stroke="#000" stroke-width="1.3"/>
<text x="53.70" y="775.42" font-size="11.5" text-anchor="end">40</text>
<line x1="55.00" y1="746.18" x2="60.20" y2="746.18" stroke="#000" stroke-width="1.3"/>
<text x="53.70" y="750.28" font-size="11.5" text-anchor="end">60</text>
<line x1="55.00" y1="721.04" x2="60.20" y2="721.04" stroke="#000" stroke-width="1.3"/>
<text x="53.70" y="725.14" font-size="11.5" text-anchor="end">80</text>
<line x1="55.00" y1="695.90" x2="60.20" y2="695.90" stroke="#000" stroke-width="1.3"/>
<text x="53.70" y="700.00" font-size="11.5" text-anchor="end">100</text>
<rect x="70.60" y="723.90" width="19.10" height="97.70" fill="#000"/>
<rect x="100.10" y="799.00" width="19.50" height="22.60" fill="#0000ff"/>
<rect x="129.40" y="801.70" width="19.70" height="19.90" fill="#ff0080"/>
<rect x="159.20" y="804.70" width="19.60" height="16.90" fill="#ffff00"/>
<text x="84.30" y="793.90" font-size="12" fill="#fff" transform="rotate(-90 84.3 793.9)">N= 73</text>
<text x="113.70" y="795.40" font-size="12" transform="rotate(-90 113.7 795.4)">N= 16</text>
<text x="143.30" y="795.40" font-size="12" transform="rotate(-90 143.29999999999998 795.4)">N= 22</text>
<text x="173.20" y="795.40" font-size="12" transform="rotate(-90 173.2 795.4)">N= 12</text>
<text x="84.45" y="823.00" font-size="12" text-anchor="end" transform="rotate(-90 84.45 823.0)">No biomarkers</text>
<text x="114.15" y="823.00" font-size="12" text-anchor="end" transform="rotate(-90 114.14999999999999 823.0)">LMW-E</text>
<text x="143.55" y="825.60" font-size="12" text-anchor="end" transform="rotate(-90 143.55 825.6)">CDK5</text>
<text x="173.30" y="823.00" font-size="12" text-anchor="end" transform="rotate(-90 173.3 823.0)">Both</text>
<line x1="98.80" y1="868.10" x2="182.20" y2="868.10" stroke="#333" stroke-width="1.0"/>
<text x="133.80" y="880.80" font-size="11.5" text-anchor="middle">Positive for</text>
<text x="133.80" y="699.90" font-size="14" text-anchor="middle">Aci</text>
<line x1="211.50" y1="694.60" x2="211.50" y2="821.40" stroke="#000" stroke-width="1.3"/>
<line x1="210.90" y1="820.80" x2="340.30" y2="820.80" stroke="#000" stroke-width="1.3"/>
<line x1="206.30" y1="820.80" x2="211.50" y2="820.80" stroke="#000" stroke-width="1.3"/>
<text x="205.00" y="824.90" font-size="11.5" text-anchor="end">0</text>
<line x1="206.30" y1="795.68" x2="211.50" y2="795.68" stroke="#000" stroke-width="1.3"/>
<text x="205.00" y="799.78" font-size="11.5" text-anchor="end">20</text>
<line x1="206.30" y1="770.56" x2="211.50" y2="770.56" stroke="#000" stroke-width="1.3"/>
<text x="205.00" y="774.66" font-size="11.5" text-anchor="end">40</text>
<line x1="206.30" y1="745.44" x2="211.50" y2="745.44" stroke="#000" stroke-width="1.3"/>
<text x="205.00" y="749.54" font-size="11.5" text-anchor="end">60</text>
<line x1="206.30" y1="720.32" x2="211.50" y2="720.32" stroke="#000" stroke-width="1.3"/>
<text x="205.00" y="724.42" font-size="11.5" text-anchor="end">80</text>
<line x1="206.30" y1="695.20" x2="211.50" y2="695.20" stroke="#000" stroke-width="1.3"/>
<text x="205.00" y="699.30" font-size="11.5" text-anchor="end">100</text>
<rect x="221.30" y="707.30" width="19.70" height="113.50" fill="#000"/>
<rect x="250.90" y="766.70" width="19.70" height="54.10" fill="#0000ff"/>
<rect x="280.90" y="761.70" width="19.70" height="59.10" fill="#ff0080"/>
<rect x="310.60" y="783.00" width="19.60" height="37.80" fill="#ffff00"/>
<text x="235.40" y="779.30" font-size="12" fill="#fff" transform="rotate(-90 235.39999999999998 779.3)">N=203</text>
<text x="265.00" y="808.20" font-size="12" fill="#fff" transform="rotate(-90 265.0 808.2)">N= 65</text>
<text x="295.00" y="807.40" font-size="12" fill="#fff" transform="rotate(-90 295.0 807.4)">N= 84</text>
<text x="324.60" y="816.60" font-size="12" transform="rotate(-90 324.59999999999997 816.6)">N= 45</text>
<text x="235.45" y="822.20" font-size="12" text-anchor="end" transform="rotate(-90 235.45000000000002 822.1999999999999)">No biomarkers</text>
<text x="265.05" y="822.20" font-size="12" text-anchor="end" transform="rotate(-90 265.05 822.1999999999999)">LMW-E</text>
<text x="295.05" y="824.80" font-size="12" text-anchor="end" transform="rotate(-90 295.05 824.8)">CDK5</text>
<text x="324.70" y="822.20" font-size="12" text-anchor="end" transform="rotate(-90 324.7 822.1999999999999)">Both</text>
<line x1="256.70" y1="869.20" x2="340.30" y2="869.20" stroke="#333" stroke-width="1.0"/>
<text x="292.50" y="881.80" font-size="11.5" text-anchor="middle">Positive for</text>
<text x="287.00" y="698.40" font-size="14" text-anchor="middle">AdCC</text>
<line x1="368.40" y1="693.10" x2="368.40" y2="819.90" stroke="#000" stroke-width="1.3"/>
<line x1="367.80" y1="819.30" x2="494.50" y2="819.30" stroke="#000" stroke-width="1.3"/>
<line x1="363.20" y1="819.30" x2="368.40" y2="819.30" stroke="#000" stroke-width="1.3"/>
<text x="361.90" y="823.40" font-size="11.5" text-anchor="end">0</text>
<line x1="363.20" y1="798.37" x2="368.40" y2="798.37" stroke="#000" stroke-width="1.3"/>
<text x="361.90" y="802.47" font-size="11.5" text-anchor="end">25</text>
<line x1="363.20" y1="777.43" x2="368.40" y2="777.43" stroke="#000" stroke-width="1.3"/>
<text x="361.90" y="781.53" font-size="11.5" text-anchor="end">50</text>
<line x1="363.20" y1="756.50" x2="368.40" y2="756.50" stroke="#000" stroke-width="1.3"/>
<text x="361.90" y="760.60" font-size="11.5" text-anchor="end">75</text>
<line x1="363.20" y1="735.57" x2="368.40" y2="735.57" stroke="#000" stroke-width="1.3"/>
<text x="361.90" y="739.67" font-size="11.5" text-anchor="end">100</text>
<line x1="363.20" y1="714.63" x2="368.40" y2="714.63" stroke="#000" stroke-width="1.3"/>
<text x="361.90" y="718.73" font-size="11.5" text-anchor="end">125</text>
<line x1="363.20" y1="693.70" x2="368.40" y2="693.70" stroke="#000" stroke-width="1.3"/>
<text x="361.90" y="697.80" font-size="11.5" text-anchor="end">150</text>
<rect x="378.60" y="713.40" width="19.20" height="105.90" fill="#000"/>
<rect x="407.50" y="809.80" width="19.20" height="9.50" fill="#0000ff"/>
<rect x="436.70" y="767.80" width="19.20" height="51.50" fill="#ff0080"/>
<rect x="465.60" y="807.70" width="19.20" height="11.60" fill="#ffff00"/>
<text x="392.40" y="802.20" font-size="12" fill="#fff" transform="rotate(-90 392.4 802.2)">N= 82</text>
<text x="421.30" y="803.50" font-size="12" transform="rotate(-90 421.3 803.5)">N= 20</text>
<text x="450.50" y="802.20" font-size="12" fill="#fff" transform="rotate(-90 450.5 802.2)">N= 32</text>
<text x="479.40" y="802.20" font-size="12" transform="rotate(-90 479.4 802.2)">N=15</text>
<text x="392.50" y="820.70" font-size="12" text-anchor="end" transform="rotate(-90 392.50000000000006 820.6999999999999)">No biomarkers</text>
<text x="421.40" y="820.70" font-size="12" text-anchor="end" transform="rotate(-90 421.40000000000003 820.6999999999999)">LMW-E</text>
<text x="450.60" y="823.30" font-size="12" text-anchor="end" transform="rotate(-90 450.59999999999997 823.3)">CDK5</text>
<text x="479.50" y="820.70" font-size="12" text-anchor="end" transform="rotate(-90 479.50000000000006 820.6999999999999)">Both</text>
<line x1="410.90" y1="866.50" x2="494.50" y2="866.50" stroke="#333" stroke-width="1.0"/>
<text x="446.40" y="879.40" font-size="11.5" text-anchor="middle">Positive for</text>
<text x="443.30" y="697.30" font-size="14" text-anchor="middle">MEC</text>
<line x1="520.20" y1="692.00" x2="520.20" y2="818.80" stroke="#000" stroke-width="1.3"/>
<line x1="519.60" y1="818.20" x2="645.60" y2="818.20" stroke="#000" stroke-width="1.3"/>
<line x1="515.00" y1="818.20" x2="520.20" y2="818.20" stroke="#000" stroke-width="1.3"/>
<text x="513.70" y="822.30" font-size="11.5" text-anchor="end">0</text>
<line x1="515.00" y1="797.27" x2="520.20" y2="797.27" stroke="#000" stroke-width="1.3"/>
<text x="513.70" y="801.37" font-size="11.5" text-anchor="end">5</text>
<line x1="515.00" y1="776.33" x2="520.20" y2="776.33" stroke="#000" stroke-width="1.3"/>
<text x="513.70" y="780.43" font-size="11.5" text-anchor="end">10</text>
<line x1="515.00" y1="755.40" x2="520.20" y2="755.40" stroke="#000" stroke-width="1.3"/>
<text x="513.70" y="759.50" font-size="11.5" text-anchor="end">15</text>
<line x1="515.00" y1="734.47" x2="520.20" y2="734.47" stroke="#000" stroke-width="1.3"/>
<text x="513.70" y="738.57" font-size="11.5" text-anchor="end">20</text>
<line x1="515.00" y1="713.53" x2="520.20" y2="713.53" stroke="#000" stroke-width="1.3"/>
<text x="513.70" y="717.63" font-size="11.5" text-anchor="end">25</text>
<line x1="515.00" y1="692.60" x2="520.20" y2="692.60" stroke="#000" stroke-width="1.3"/>
<text x="513.70" y="696.70" font-size="11.5" text-anchor="end">30</text>
<rect x="530.00" y="692.60" width="18.60" height="125.60" fill="#000"/>
<rect x="558.90" y="739.10" width="18.90" height="79.10" fill="#0000ff"/>
<rect x="588.00" y="747.30" width="19.00" height="70.90" fill="#ff0080"/>
<rect x="616.90" y="747.30" width="18.90" height="70.90" fill="#ffff00"/>
<text x="543.50" y="785.10" font-size="12" fill="#fff" transform="rotate(-90 543.5 785.1)">N= 99</text>
<text x="572.50" y="785.10" font-size="12" fill="#fff" transform="rotate(-90 572.5 785.1)">N= 54</text>
<text x="601.70" y="785.10" font-size="12" fill="#fff" transform="rotate(-90 601.7 785.1)">N= 52</text>
<text x="630.60" y="785.10" font-size="12" transform="rotate(-90 630.6 785.1)">N= 42</text>
<text x="543.60" y="819.60" font-size="12" text-anchor="end" transform="rotate(-90 543.5999999999999 819.6)">No biomarkers</text>
<text x="572.65" y="819.60" font-size="12" text-anchor="end" transform="rotate(-90 572.6499999999999 819.6)">LMW-E</text>
<text x="601.80" y="822.20" font-size="12" text-anchor="end" transform="rotate(-90 601.8 822.2)">CDK5</text>
<text x="630.65" y="819.60" font-size="12" text-anchor="end" transform="rotate(-90 630.6499999999999 819.6)">Both</text>
<line x1="562.30" y1="865.20" x2="645.60" y2="865.20" stroke="#333" stroke-width="1.0"/>
<text x="597.90" y="878.00" font-size="11.5" text-anchor="middle">Positive for</text>
<text x="597.20" y="697.90" font-size="14" text-anchor="middle">SDC</text>
<text x="0.50" y="20.40" font-size="15.5" font-weight="bold">A.</text>
<text x="0.50" y="168.10" font-size="15.5" font-weight="bold">B.</text>
<text x="0.50" y="337.30" font-size="15.5" font-weight="bold">C.</text>
<text x="0.50" y="505.70" font-size="15.5" font-weight="bold">D.</text>
<text x="42.60" y="687.80" font-size="15.5" font-weight="bold">E.</text>
<text x="193.50" y="687.80" font-size="15.5" font-weight="bold">F.</text>
<text x="349.50" y="687.80" font-size="15.5" font-weight="bold">G.</text>
<text x="501.50" y="687.80" font-size="15.5" font-weight="bold">H.</text>
<text x="27.30" y="757.20" font-size="12" text-anchor="middle" transform="rotate(-90 27.3 757.2)">Median RFS (Months)</text>
</svg>
</body></html>
